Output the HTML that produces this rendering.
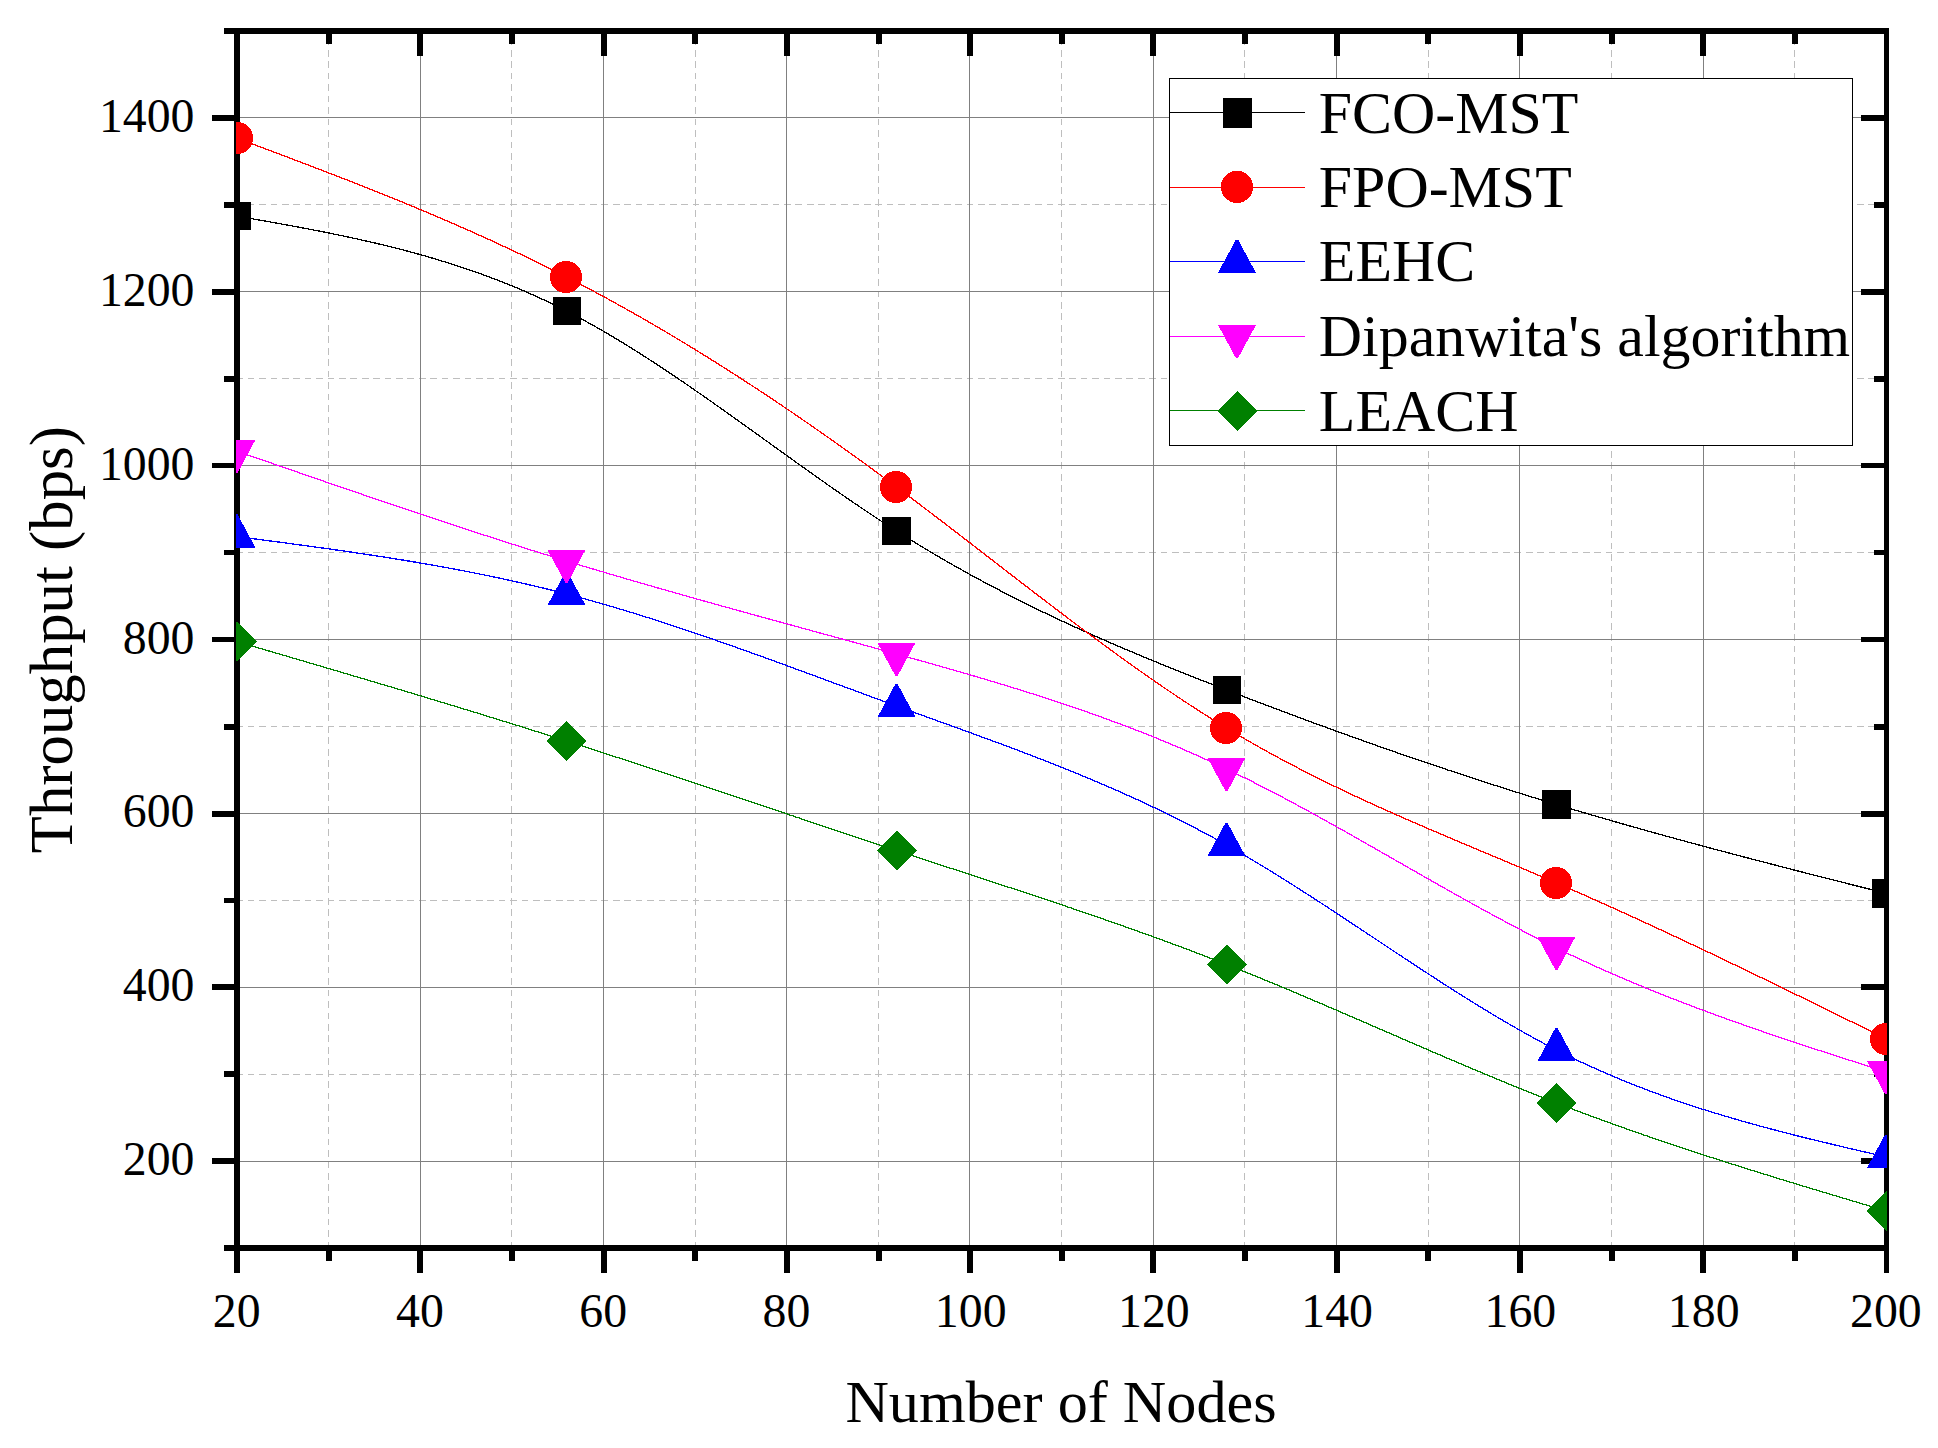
<!DOCTYPE html>
<html lang="en"><head><meta charset="utf-8"><title>Throughput vs Number of Nodes</title>
<style>html,body{margin:0;padding:0;background:#fff;overflow:hidden}svg{display:block}text{font-family:"Liberation Serif",serif;fill:#000;font-kerning:none}</style>
</head><body>
<svg width="1938" height="1448" viewBox="0 0 1938 1448">
<rect x="0" y="0" width="1938" height="1448" fill="#fff"/>
<defs><clipPath id="pc"><rect x="236" y="31" width="1651" height="1217"/></clipPath></defs>
<g shape-rendering="crispEdges" fill="none" stroke-width="1">
<g stroke="#bebebe">
<line x1="328.5" y1="1248.4" x2="328.5" y2="34" stroke-dasharray="6.7 4.76"/>
<line x1="511.5" y1="1248.4" x2="511.5" y2="34" stroke-dasharray="6.7 4.76"/>
<line x1="695.5" y1="1248.4" x2="695.5" y2="34" stroke-dasharray="6.7 4.76"/>
<line x1="878.5" y1="1248.4" x2="878.5" y2="34" stroke-dasharray="6.7 4.76"/>
<line x1="1061.5" y1="1248.4" x2="1061.5" y2="34" stroke-dasharray="6.7 4.76"/>
<line x1="1244.5" y1="1248.4" x2="1244.5" y2="34" stroke-dasharray="6.7 4.76"/>
<line x1="1428.5" y1="1248.4" x2="1428.5" y2="34" stroke-dasharray="6.7 4.76"/>
<line x1="1611.5" y1="1248.4" x2="1611.5" y2="34" stroke-dasharray="6.7 4.76"/>
<line x1="1794.5" y1="1248.4" x2="1794.5" y2="34" stroke-dasharray="6.7 4.76"/>
<line x1="236.3" y1="1074.5" x2="1884" y2="1074.5" stroke-dasharray="6.7 4.712"/>
<line x1="236.3" y1="900.5" x2="1884" y2="900.5" stroke-dasharray="6.7 4.712"/>
<line x1="236.3" y1="726.5" x2="1884" y2="726.5" stroke-dasharray="6.7 4.712"/>
<line x1="236.3" y1="552.5" x2="1884" y2="552.5" stroke-dasharray="6.7 4.712"/>
<line x1="236.3" y1="378.5" x2="1884" y2="378.5" stroke-dasharray="6.7 4.712"/>
<line x1="236.3" y1="204.5" x2="1884" y2="204.5" stroke-dasharray="6.7 4.712"/>
</g>
<g stroke="#808080">
<line x1="420.5" y1="34" x2="420.5" y2="1245"/>
<line x1="603.5" y1="34" x2="603.5" y2="1245"/>
<line x1="786.5" y1="34" x2="786.5" y2="1245"/>
<line x1="969.5" y1="34" x2="969.5" y2="1245"/>
<line x1="1153.5" y1="34" x2="1153.5" y2="1245"/>
<line x1="1336.5" y1="34" x2="1336.5" y2="1245"/>
<line x1="1519.5" y1="34" x2="1519.5" y2="1245"/>
<line x1="1703.5" y1="34" x2="1703.5" y2="1245"/>
<line x1="240" y1="1161.5" x2="1884" y2="1161.5"/>
<line x1="240" y1="987.5" x2="1884" y2="987.5"/>
<line x1="240" y1="813.5" x2="1884" y2="813.5"/>
<line x1="240" y1="639.5" x2="1884" y2="639.5"/>
<line x1="240" y1="465.5" x2="1884" y2="465.5"/>
<line x1="240" y1="291.5" x2="1884" y2="291.5"/>
<line x1="240" y1="117.5" x2="1884" y2="117.5"/>
</g></g>
<g shape-rendering="crispEdges" fill="#000">
<rect x="234" y="28" width="6" height="1223"/>
<rect x="1884" y="28" width="5" height="1245"/>
<rect x="224" y="28" width="1665" height="6"/>
<rect x="224" y="1245" width="1665" height="6"/>
<rect x="212" y="1158" width="22" height="6"/>
<rect x="1861" y="1158" width="23" height="6"/>
<rect x="224" y="1071" width="10" height="6"/>
<rect x="1874" y="1071" width="10" height="6"/>
<rect x="212" y="984" width="22" height="6"/>
<rect x="1861" y="984" width="23" height="6"/>
<rect x="224" y="898" width="10" height="5"/>
<rect x="1874" y="898" width="10" height="5"/>
<rect x="212" y="811" width="22" height="6"/>
<rect x="1861" y="811" width="23" height="6"/>
<rect x="224" y="724" width="10" height="6"/>
<rect x="1874" y="724" width="10" height="6"/>
<rect x="212" y="637" width="22" height="5"/>
<rect x="1861" y="637" width="23" height="5"/>
<rect x="224" y="550" width="10" height="5"/>
<rect x="1874" y="550" width="10" height="5"/>
<rect x="212" y="463" width="22" height="5"/>
<rect x="1861" y="463" width="23" height="5"/>
<rect x="224" y="376" width="10" height="6"/>
<rect x="1874" y="376" width="10" height="6"/>
<rect x="212" y="289" width="22" height="6"/>
<rect x="1861" y="289" width="23" height="6"/>
<rect x="224" y="202" width="10" height="6"/>
<rect x="1874" y="202" width="10" height="6"/>
<rect x="212" y="115" width="22" height="6"/>
<rect x="1861" y="115" width="23" height="6"/>
<rect x="234" y="1251" width="6" height="22"/>
<rect x="326" y="34" width="6" height="10"/>
<rect x="326" y="1251" width="6" height="10"/>
<rect x="417" y="34" width="6" height="22"/>
<rect x="417" y="1251" width="6" height="22"/>
<rect x="509" y="34" width="6" height="10"/>
<rect x="509" y="1251" width="6" height="10"/>
<rect x="601" y="34" width="6" height="22"/>
<rect x="601" y="1251" width="6" height="22"/>
<rect x="692" y="34" width="6" height="10"/>
<rect x="692" y="1251" width="6" height="10"/>
<rect x="784" y="34" width="6" height="22"/>
<rect x="784" y="1251" width="6" height="22"/>
<rect x="876" y="34" width="6" height="10"/>
<rect x="876" y="1251" width="6" height="10"/>
<rect x="967" y="34" width="6" height="22"/>
<rect x="967" y="1251" width="6" height="22"/>
<rect x="1059" y="34" width="6" height="10"/>
<rect x="1059" y="1251" width="6" height="10"/>
<rect x="1150" y="34" width="6" height="22"/>
<rect x="1150" y="1251" width="6" height="22"/>
<rect x="1242" y="34" width="6" height="10"/>
<rect x="1242" y="1251" width="6" height="10"/>
<rect x="1334" y="34" width="6" height="22"/>
<rect x="1334" y="1251" width="6" height="22"/>
<rect x="1425" y="34" width="6" height="10"/>
<rect x="1425" y="1251" width="6" height="10"/>
<rect x="1517" y="34" width="6" height="22"/>
<rect x="1517" y="1251" width="6" height="22"/>
<rect x="1609" y="34" width="6" height="10"/>
<rect x="1609" y="1251" width="6" height="10"/>
<rect x="1700" y="34" width="6" height="22"/>
<rect x="1700" y="1251" width="6" height="22"/>
<rect x="1792" y="34" width="6" height="10"/>
<rect x="1792" y="1251" width="6" height="10"/>
</g>
<g font-size="47.8px">
<text x="194.5" y="1175.2" text-anchor="end">200</text>
<text x="194.5" y="1001.3" text-anchor="end">400</text>
<text x="194.5" y="827.4" text-anchor="end">600</text>
<text x="194.5" y="653.6" text-anchor="end">800</text>
<text x="194.5" y="479.7" text-anchor="end">1000</text>
<text x="194.5" y="305.9" text-anchor="end">1200</text>
<text x="194.5" y="132.0" text-anchor="end">1400</text>
<text x="236.7" y="1327" text-anchor="middle">20</text>
<text x="419.9" y="1327" text-anchor="middle">40</text>
<text x="603.2" y="1327" text-anchor="middle">60</text>
<text x="786.4" y="1327" text-anchor="middle">80</text>
<text x="970.7" y="1327" text-anchor="middle">100</text>
<text x="1153.9" y="1327" text-anchor="middle">120</text>
<text x="1337.1" y="1327" text-anchor="middle">140</text>
<text x="1520.4" y="1327" text-anchor="middle">160</text>
<text x="1703.7" y="1327" text-anchor="middle">180</text>
<text x="1885.9" y="1327" text-anchor="middle">200</text>
</g>
<text x="1061.0" y="1421.8" font-size="60.2px" text-anchor="middle">Number of Nodes</text>
<text transform="translate(72,639.6) rotate(-90)" font-size="60.8px" text-anchor="middle">Throughput (bps)</text>
<g clip-path="url(#pc)" shape-rendering="crispEdges">
<polyline points="236.5,216.0 238.5,216.4 240.5,216.7 242.5,217.1 244.5,217.4 246.5,217.8 248.5,218.1 250.5,218.5 252.5,218.8 254.5,219.2 256.5,219.5 258.5,219.9 260.5,220.2 262.5,220.6 264.5,220.9 266.5,221.3 268.5,221.6 270.5,222.0 272.5,222.4 274.5,222.7 276.5,223.1 278.5,223.4 280.5,223.8 282.5,224.2 284.5,224.5 286.5,224.9 288.5,225.3 290.5,225.6 292.5,226.0 294.5,226.4 296.5,226.7 298.5,227.1 300.5,227.5 302.5,227.9 304.5,228.2 306.5,228.6 308.5,229.0 310.5,229.4 312.5,229.8 314.5,230.2 316.5,230.6 318.5,230.9 320.5,231.3 322.5,231.7 324.5,232.1 326.5,232.5 328.5,232.9 330.5,233.3 332.5,233.7 334.5,234.2 336.5,234.6 338.5,235.0 340.5,235.4 342.5,235.8 344.5,236.2 346.5,236.7 348.5,237.1 350.5,237.5 352.5,238.0 354.5,238.4 356.5,238.8 358.5,239.3 360.5,239.7 362.5,240.2 364.5,240.6 366.5,241.1 368.5,241.5 370.5,242.0 372.5,242.4 374.5,242.9 376.5,243.4 378.5,243.9 380.5,244.3 382.5,244.8 384.5,245.3 386.5,245.8 388.5,246.3 390.5,246.8 392.5,247.3 394.5,247.8 396.5,248.3 398.5,248.8 400.5,249.3 402.5,249.8 404.5,250.4 406.5,250.9 408.5,251.4 410.5,252.0 412.5,252.5 414.5,253.0 416.5,253.6 418.5,254.1 420.5,254.7 422.5,255.3 424.5,255.8 426.5,256.4 428.5,257.0 430.5,257.6 432.5,258.1 434.5,258.7 436.5,259.3 438.5,259.9 440.5,260.5 442.5,261.2 444.5,261.8 446.5,262.4 448.5,263.0 450.5,263.6 452.5,264.3 454.5,264.9 456.5,265.6 458.5,266.2 460.5,266.9 462.5,267.6 464.5,268.2 466.5,268.9 468.5,269.6 470.5,270.3 472.5,271.0 474.5,271.7 476.5,272.4 478.5,273.1 480.5,273.8 482.5,274.5 484.5,275.2 486.5,276.0 488.5,276.7 490.5,277.5 492.5,278.2 494.5,279.0 496.5,279.8 498.5,280.5 500.5,281.3 502.5,282.1 504.5,282.9 506.5,283.7 508.5,284.5 510.5,285.3 512.5,286.1 514.5,286.9 516.5,287.8 518.5,288.6 520.5,289.5 522.5,290.3 524.5,291.2 526.5,292.1 528.5,292.9 530.5,293.8 532.5,294.7 534.5,295.6 536.5,296.5 538.5,297.4 540.5,298.3 542.5,299.3 544.5,300.2 546.5,301.1 548.5,302.1 550.5,303.1 552.5,304.0 554.5,305.0 556.5,306.0 558.5,307.0 560.5,308.0 562.5,309.0 564.5,310.0 566.5,311.0 568.5,312.0 570.5,313.1 572.5,314.1 574.5,315.2 576.5,316.2 578.5,317.3 580.5,318.4 582.5,319.5 584.5,320.6 586.5,321.7 588.5,322.8 590.5,323.9 592.5,325.0 594.5,326.1 596.5,327.3 598.5,328.4 600.5,329.6 602.5,330.7 604.5,331.9 606.5,333.0 608.5,334.2 610.5,335.4 612.5,336.6 614.5,337.8 616.5,339.0 618.5,340.2 620.5,341.4 622.5,342.6 624.5,343.9 626.5,345.1 628.5,346.3 630.5,347.6 632.5,348.8 634.5,350.1 636.5,351.3 638.5,352.6 640.5,353.9 642.5,355.2 644.5,356.4 646.5,357.7 648.5,359.0 650.5,360.3 652.5,361.6 654.5,362.9 656.5,364.2 658.5,365.5 660.5,366.9 662.5,368.2 664.5,369.5 666.5,370.8 668.5,372.2 670.5,373.5 672.5,374.9 674.5,376.2 676.5,377.6 678.5,378.9 680.5,380.3 682.5,381.6 684.5,383.0 686.5,384.4 688.5,385.7 690.5,387.1 692.5,388.5 694.5,389.9 696.5,391.3 698.5,392.7 700.5,394.0 702.5,395.4 704.5,396.8 706.5,398.2 708.5,399.6 710.5,401.0 712.5,402.4 714.5,403.9 716.5,405.3 718.5,406.7 720.5,408.1 722.5,409.5 724.5,410.9 726.5,412.4 728.5,413.8 730.5,415.2 732.5,416.6 734.5,418.0 736.5,419.5 738.5,420.9 740.5,422.3 742.5,423.8 744.5,425.2 746.5,426.6 748.5,428.1 750.5,429.5 752.5,430.9 754.5,432.4 756.5,433.8 758.5,435.3 760.5,436.7 762.5,438.1 764.5,439.6 766.5,441.0 768.5,442.4 770.5,443.9 772.5,445.3 774.5,446.8 776.5,448.2 778.5,449.6 780.5,451.1 782.5,452.5 784.5,454.0 786.5,455.4 788.5,456.8 790.5,458.3 792.5,459.7 794.5,461.1 796.5,462.6 798.5,464.0 800.5,465.4 802.5,466.8 804.5,468.3 806.5,469.7 808.5,471.1 810.5,472.5 812.5,474.0 814.5,475.4 816.5,476.8 818.5,478.2 820.5,479.6 822.5,481.0 824.5,482.4 826.5,483.9 828.5,485.3 830.5,486.7 832.5,488.1 834.5,489.5 836.5,490.8 838.5,492.2 840.5,493.6 842.5,495.0 844.5,496.4 846.5,497.8 848.5,499.1 850.5,500.5 852.5,501.9 854.5,503.3 856.5,504.6 858.5,506.0 860.5,507.3 862.5,508.7 864.5,510.0 866.5,511.4 868.5,512.7 870.5,514.0 872.5,515.4 874.5,516.7 876.5,518.0 878.5,519.3 880.5,520.7 882.5,522.0 884.5,523.3 886.5,524.6 888.5,525.9 890.5,527.2 892.5,528.4 894.5,529.7 896.5,531.0 898.5,532.3 900.5,533.5 902.5,534.8 904.5,536.0 906.5,537.3 908.5,538.5 910.5,539.8 912.5,541.0 914.5,542.2 916.5,543.5 918.5,544.7 920.5,545.9 922.5,547.1 924.5,548.3 926.5,549.5 928.5,550.7 930.5,551.9 932.5,553.1 934.5,554.3 936.5,555.5 938.5,556.6 940.5,557.8 942.5,559.0 944.5,560.1 946.5,561.3 948.5,562.4 950.5,563.6 952.5,564.7 954.5,565.8 956.5,567.0 958.5,568.1 960.5,569.2 962.5,570.3 964.5,571.4 966.5,572.6 968.5,573.7 970.5,574.8 972.5,575.9 974.5,576.9 976.5,578.0 978.5,579.1 980.5,580.2 982.5,581.3 984.5,582.3 986.5,583.4 988.5,584.5 990.5,585.5 992.5,586.6 994.5,587.6 996.5,588.7 998.5,589.7 1000.5,590.8 1002.5,591.8 1004.5,592.8 1006.5,593.9 1008.5,594.9 1010.5,595.9 1012.5,596.9 1014.5,598.0 1016.5,599.0 1018.5,600.0 1020.5,601.0 1022.5,602.0 1024.5,603.0 1026.5,604.0 1028.5,605.0 1030.5,605.9 1032.5,606.9 1034.5,607.9 1036.5,608.9 1038.5,609.8 1040.5,610.8 1042.5,611.8 1044.5,612.7 1046.5,613.7 1048.5,614.7 1050.5,615.6 1052.5,616.6 1054.5,617.5 1056.5,618.4 1058.5,619.4 1060.5,620.3 1062.5,621.3 1064.5,622.2 1066.5,623.1 1068.5,624.0 1070.5,625.0 1072.5,625.9 1074.5,626.8 1076.5,627.7 1078.5,628.6 1080.5,629.5 1082.5,630.4 1084.5,631.3 1086.5,632.2 1088.5,633.1 1090.5,634.0 1092.5,634.9 1094.5,635.8 1096.5,636.7 1098.5,637.6 1100.5,638.5 1102.5,639.3 1104.5,640.2 1106.5,641.1 1108.5,642.0 1110.5,642.8 1112.5,643.7 1114.5,644.6 1116.5,645.4 1118.5,646.3 1120.5,647.1 1122.5,648.0 1124.5,648.8 1126.5,649.7 1128.5,650.5 1130.5,651.4 1132.5,652.2 1134.5,653.1 1136.5,653.9 1138.5,654.8 1140.5,655.6 1142.5,656.4 1144.5,657.3 1146.5,658.1 1148.5,658.9 1150.5,659.7 1152.5,660.6 1154.5,661.4 1156.5,662.2 1158.5,663.0 1160.5,663.8 1162.5,664.7 1164.5,665.5 1166.5,666.3 1168.5,667.1 1170.5,667.9 1172.5,668.7 1174.5,669.5 1176.5,670.3 1178.5,671.1 1180.5,671.9 1182.5,672.7 1184.5,673.5 1186.5,674.3 1188.5,675.1 1190.5,675.9 1192.5,676.7 1194.5,677.5 1196.5,678.3 1198.5,679.1 1200.5,679.9 1202.5,680.6 1204.5,681.4 1206.5,682.2 1208.5,683.0 1210.5,683.8 1212.5,684.6 1214.5,685.3 1216.5,686.1 1218.5,686.9 1220.5,687.7 1222.5,688.5 1224.5,689.2 1226.5,690.0 1228.5,690.8 1230.5,691.5 1232.5,692.3 1234.5,693.1 1236.5,693.9 1238.5,694.6 1240.5,695.4 1242.5,696.2 1244.5,696.9 1246.5,697.7 1248.5,698.5 1250.5,699.2 1252.5,700.0 1254.5,700.7 1256.5,701.5 1258.5,702.3 1260.5,703.0 1262.5,703.8 1264.5,704.5 1266.5,705.3 1268.5,706.1 1270.5,706.8 1272.5,707.6 1274.5,708.3 1276.5,709.1 1278.5,709.8 1280.5,710.6 1282.5,711.3 1284.5,712.1 1286.5,712.8 1288.5,713.6 1290.5,714.3 1292.5,715.1 1294.5,715.8 1296.5,716.5 1298.5,717.3 1300.5,718.0 1302.5,718.8 1304.5,719.5 1306.5,720.2 1308.5,721.0 1310.5,721.7 1312.5,722.5 1314.5,723.2 1316.5,723.9 1318.5,724.7 1320.5,725.4 1322.5,726.1 1324.5,726.8 1326.5,727.6 1328.5,728.3 1330.5,729.0 1332.5,729.8 1334.5,730.5 1336.5,731.2 1338.5,731.9 1340.5,732.7 1342.5,733.4 1344.5,734.1 1346.5,734.8 1348.5,735.5 1350.5,736.2 1352.5,737.0 1354.5,737.7 1356.5,738.4 1358.5,739.1 1360.5,739.8 1362.5,740.5 1364.5,741.2 1366.5,742.0 1368.5,742.7 1370.5,743.4 1372.5,744.1 1374.5,744.8 1376.5,745.5 1378.5,746.2 1380.5,746.9 1382.5,747.6 1384.5,748.3 1386.5,749.0 1388.5,749.7 1390.5,750.4 1392.5,751.1 1394.5,751.8 1396.5,752.5 1398.5,753.2 1400.5,753.9 1402.5,754.5 1404.5,755.2 1406.5,755.9 1408.5,756.6 1410.5,757.3 1412.5,758.0 1414.5,758.7 1416.5,759.4 1418.5,760.0 1420.5,760.7 1422.5,761.4 1424.5,762.1 1426.5,762.8 1428.5,763.4 1430.5,764.1 1432.5,764.8 1434.5,765.5 1436.5,766.1 1438.5,766.8 1440.5,767.5 1442.5,768.1 1444.5,768.8 1446.5,769.5 1448.5,770.2 1450.5,770.8 1452.5,771.5 1454.5,772.1 1456.5,772.8 1458.5,773.5 1460.5,774.1 1462.5,774.8 1464.5,775.4 1466.5,776.1 1468.5,776.8 1470.5,777.4 1472.5,778.1 1474.5,778.7 1476.5,779.4 1478.5,780.0 1480.5,780.7 1482.5,781.3 1484.5,782.0 1486.5,782.6 1488.5,783.3 1490.5,783.9 1492.5,784.5 1494.5,785.2 1496.5,785.8 1498.5,786.5 1500.5,787.1 1502.5,787.7 1504.5,788.4 1506.5,789.0 1508.5,789.6 1510.5,790.3 1512.5,790.9 1514.5,791.5 1516.5,792.2 1518.5,792.8 1520.5,793.4 1522.5,794.0 1524.5,794.7 1526.5,795.3 1528.5,795.9 1530.5,796.5 1532.5,797.2 1534.5,797.8 1536.5,798.4 1538.5,799.0 1540.5,799.6 1542.5,800.2 1544.5,800.8 1546.5,801.5 1548.5,802.1 1550.5,802.7 1552.5,803.3 1554.5,803.9 1556.5,804.5 1558.5,805.1 1560.5,805.7 1562.5,806.3 1564.5,806.9 1566.5,807.5 1568.5,808.1 1570.5,808.7 1572.5,809.3 1574.5,809.9 1576.5,810.5 1578.5,811.1 1580.5,811.7 1582.5,812.3 1584.5,812.9 1586.5,813.4 1588.5,814.0 1590.5,814.6 1592.5,815.2 1594.5,815.8 1596.5,816.4 1598.5,817.0 1600.5,817.5 1602.5,818.1 1604.5,818.7 1606.5,819.3 1608.5,819.8 1610.5,820.4 1612.5,821.0 1614.5,821.6 1616.5,822.1 1618.5,822.7 1620.5,823.3 1622.5,823.9 1624.5,824.4 1626.5,825.0 1628.5,825.6 1630.5,826.1 1632.5,826.7 1634.5,827.3 1636.5,827.8 1638.5,828.4 1640.5,828.9 1642.5,829.5 1644.5,830.1 1646.5,830.6 1648.5,831.2 1650.5,831.7 1652.5,832.3 1654.5,832.9 1656.5,833.4 1658.5,834.0 1660.5,834.5 1662.5,835.1 1664.5,835.6 1666.5,836.2 1668.5,836.7 1670.5,837.3 1672.5,837.8 1674.5,838.4 1676.5,838.9 1678.5,839.5 1680.5,840.0 1682.5,840.5 1684.5,841.1 1686.5,841.6 1688.5,842.2 1690.5,842.7 1692.5,843.3 1694.5,843.8 1696.5,844.3 1698.5,844.9 1700.5,845.4 1702.5,846.0 1704.5,846.5 1706.5,847.0 1708.5,847.6 1710.5,848.1 1712.5,848.6 1714.5,849.2 1716.5,849.7 1718.5,850.2 1720.5,850.8 1722.5,851.3 1724.5,851.8 1726.5,852.4 1728.5,852.9 1730.5,853.4 1732.5,853.9 1734.5,854.5 1736.5,855.0 1738.5,855.5 1740.5,856.0 1742.5,856.6 1744.5,857.1 1746.5,857.6 1748.5,858.1 1750.5,858.7 1752.5,859.2 1754.5,859.7 1756.5,860.2 1758.5,860.8 1760.5,861.3 1762.5,861.8 1764.5,862.3 1766.5,862.8 1768.5,863.4 1770.5,863.9 1772.5,864.4 1774.5,864.9 1776.5,865.4 1778.5,866.0 1780.5,866.5 1782.5,867.0 1784.5,867.5 1786.5,868.0 1788.5,868.5 1790.5,869.0 1792.5,869.6 1794.5,870.1 1796.5,870.6 1798.5,871.1 1800.5,871.6 1802.5,872.1 1804.5,872.6 1806.5,873.2 1808.5,873.7 1810.5,874.2 1812.5,874.7 1814.5,875.2 1816.5,875.7 1818.5,876.2 1820.5,876.7 1822.5,877.2 1824.5,877.8 1826.5,878.3 1828.5,878.8 1830.5,879.3 1832.5,879.8 1834.5,880.3 1836.5,880.8 1838.5,881.3 1840.5,881.8 1842.5,882.3 1844.5,882.8 1846.5,883.4 1848.5,883.9 1850.5,884.4 1852.5,884.9 1854.5,885.4 1856.5,885.9 1858.5,886.4 1860.5,886.9 1862.5,887.4 1864.5,887.9 1866.5,888.4 1868.5,888.9 1870.5,889.4 1872.5,890.0 1874.5,890.5 1876.5,891.0 1878.5,891.5 1880.5,892.0 1882.5,892.5 1884.5,893.0 1886.5,893.5" fill="none" stroke="#000" stroke-width="1.3"/>
<rect x="223" y="202" width="28" height="28" fill="#000"/>
<rect x="553" y="297" width="28" height="28" fill="#000"/>
<rect x="882" y="517" width="29" height="28" fill="#000"/>
<rect x="1213" y="676" width="28" height="28" fill="#000"/>
<rect x="1542" y="790" width="29" height="29" fill="#000"/>
<rect x="1872" y="879" width="29" height="29" fill="#000"/>
<polyline points="236.5,138.0 238.5,138.8 240.5,139.5 242.5,140.3 244.5,141.0 246.5,141.8 248.5,142.5 250.5,143.3 252.5,144.0 254.5,144.8 256.5,145.5 258.5,146.3 260.5,147.0 262.5,147.8 264.5,148.5 266.5,149.3 268.5,150.0 270.5,150.8 272.5,151.5 274.5,152.3 276.5,153.0 278.5,153.8 280.5,154.5 282.5,155.3 284.5,156.1 286.5,156.8 288.5,157.6 290.5,158.3 292.5,159.1 294.5,159.9 296.5,160.6 298.5,161.4 300.5,162.1 302.5,162.9 304.5,163.7 306.5,164.4 308.5,165.2 310.5,165.9 312.5,166.7 314.5,167.5 316.5,168.2 318.5,169.0 320.5,169.8 322.5,170.5 324.5,171.3 326.5,172.1 328.5,172.9 330.5,173.6 332.5,174.4 334.5,175.2 336.5,176.0 338.5,176.7 340.5,177.5 342.5,178.3 344.5,179.1 346.5,179.8 348.5,180.6 350.5,181.4 352.5,182.2 354.5,183.0 356.5,183.8 358.5,184.6 360.5,185.3 362.5,186.1 364.5,186.9 366.5,187.7 368.5,188.5 370.5,189.3 372.5,190.1 374.5,190.9 376.5,191.7 378.5,192.5 380.5,193.3 382.5,194.1 384.5,194.9 386.5,195.7 388.5,196.5 390.5,197.3 392.5,198.1 394.5,199.0 396.5,199.8 398.5,200.6 400.5,201.4 402.5,202.2 404.5,203.1 406.5,203.9 408.5,204.7 410.5,205.5 412.5,206.4 414.5,207.2 416.5,208.0 418.5,208.8 420.5,209.7 422.5,210.5 424.5,211.4 426.5,212.2 428.5,213.0 430.5,213.9 432.5,214.7 434.5,215.6 436.5,216.4 438.5,217.3 440.5,218.1 442.5,219.0 444.5,219.9 446.5,220.7 448.5,221.6 450.5,222.4 452.5,223.3 454.5,224.2 456.5,225.1 458.5,225.9 460.5,226.8 462.5,227.7 464.5,228.6 466.5,229.4 468.5,230.3 470.5,231.2 472.5,232.1 474.5,233.0 476.5,233.9 478.5,234.8 480.5,235.7 482.5,236.6 484.5,237.5 486.5,238.4 488.5,239.3 490.5,240.2 492.5,241.2 494.5,242.1 496.5,243.0 498.5,243.9 500.5,244.8 502.5,245.8 504.5,246.7 506.5,247.6 508.5,248.6 510.5,249.5 512.5,250.4 514.5,251.4 516.5,252.3 518.5,253.3 520.5,254.2 522.5,255.2 524.5,256.2 526.5,257.1 528.5,258.1 530.5,259.1 532.5,260.0 534.5,261.0 536.5,262.0 538.5,263.0 540.5,263.9 542.5,264.9 544.5,265.9 546.5,266.9 548.5,267.9 550.5,268.9 552.5,269.9 554.5,270.9 556.5,271.9 558.5,272.9 560.5,273.9 562.5,275.0 564.5,276.0 566.5,277.0 568.5,278.0 570.5,279.1 572.5,280.1 574.5,281.1 576.5,282.2 578.5,283.2 580.5,284.3 582.5,285.3 584.5,286.4 586.5,287.4 588.5,288.5 590.5,289.6 592.5,290.6 594.5,291.7 596.5,292.8 598.5,293.8 600.5,294.9 602.5,296.0 604.5,297.1 606.5,298.2 608.5,299.3 610.5,300.4 612.5,301.5 614.5,302.6 616.5,303.7 618.5,304.8 620.5,305.9 622.5,307.0 624.5,308.1 626.5,309.3 628.5,310.4 630.5,311.5 632.5,312.6 634.5,313.8 636.5,314.9 638.5,316.1 640.5,317.2 642.5,318.3 644.5,319.5 646.5,320.6 648.5,321.8 650.5,323.0 652.5,324.1 654.5,325.3 656.5,326.5 658.5,327.6 660.5,328.8 662.5,330.0 664.5,331.2 666.5,332.3 668.5,333.5 670.5,334.7 672.5,335.9 674.5,337.1 676.5,338.3 678.5,339.5 680.5,340.7 682.5,341.9 684.5,343.1 686.5,344.3 688.5,345.6 690.5,346.8 692.5,348.0 694.5,349.2 696.5,350.5 698.5,351.7 700.5,352.9 702.5,354.2 704.5,355.4 706.5,356.6 708.5,357.9 710.5,359.1 712.5,360.4 714.5,361.6 716.5,362.9 718.5,364.2 720.5,365.4 722.5,366.7 724.5,368.0 726.5,369.2 728.5,370.5 730.5,371.8 732.5,373.1 734.5,374.3 736.5,375.6 738.5,376.9 740.5,378.2 742.5,379.5 744.5,380.8 746.5,382.1 748.5,383.4 750.5,384.7 752.5,386.0 754.5,387.3 756.5,388.6 758.5,389.9 760.5,391.3 762.5,392.6 764.5,393.9 766.5,395.2 768.5,396.6 770.5,397.9 772.5,399.2 774.5,400.6 776.5,401.9 778.5,403.3 780.5,404.6 782.5,406.0 784.5,407.3 786.5,408.7 788.5,410.0 790.5,411.4 792.5,412.7 794.5,414.1 796.5,415.5 798.5,416.8 800.5,418.2 802.5,419.6 804.5,421.0 806.5,422.3 808.5,423.7 810.5,425.1 812.5,426.5 814.5,427.9 816.5,429.3 818.5,430.7 820.5,432.1 822.5,433.5 824.5,434.9 826.5,436.3 828.5,437.7 830.5,439.1 832.5,440.5 834.5,441.9 836.5,443.3 838.5,444.8 840.5,446.2 842.5,447.6 844.5,449.0 846.5,450.5 848.5,451.9 850.5,453.3 852.5,454.8 854.5,456.2 856.5,457.7 858.5,459.1 860.5,460.5 862.5,462.0 864.5,463.4 866.5,464.9 868.5,466.4 870.5,467.8 872.5,469.3 874.5,470.7 876.5,472.2 878.5,473.7 880.5,475.1 882.5,476.6 884.5,478.1 886.5,479.6 888.5,481.1 890.5,482.5 892.5,484.0 894.5,485.5 896.5,487.0 898.5,488.5 900.5,490.0 902.5,491.5 904.5,493.0 906.5,494.5 908.5,496.0 910.5,497.5 912.5,499.0 914.5,500.5 916.5,502.0 918.5,503.5 920.5,505.0 922.5,506.6 924.5,508.1 926.5,509.6 928.5,511.1 930.5,512.6 932.5,514.2 934.5,515.7 936.5,517.2 938.5,518.7 940.5,520.3 942.5,521.8 944.5,523.3 946.5,524.9 948.5,526.4 950.5,527.9 952.5,529.5 954.5,531.0 956.5,532.5 958.5,534.1 960.5,535.6 962.5,537.2 964.5,538.7 966.5,540.2 968.5,541.8 970.5,543.3 972.5,544.9 974.5,546.4 976.5,547.9 978.5,549.5 980.5,551.0 982.5,552.6 984.5,554.1 986.5,555.7 988.5,557.2 990.5,558.8 992.5,560.3 994.5,561.8 996.5,563.4 998.5,564.9 1000.5,566.5 1002.5,568.0 1004.5,569.6 1006.5,571.1 1008.5,572.7 1010.5,574.2 1012.5,575.7 1014.5,577.3 1016.5,578.8 1018.5,580.4 1020.5,581.9 1022.5,583.5 1024.5,585.0 1026.5,586.5 1028.5,588.1 1030.5,589.6 1032.5,591.1 1034.5,592.7 1036.5,594.2 1038.5,595.7 1040.5,597.3 1042.5,598.8 1044.5,600.3 1046.5,601.9 1048.5,603.4 1050.5,604.9 1052.5,606.4 1054.5,607.9 1056.5,609.5 1058.5,611.0 1060.5,612.5 1062.5,614.0 1064.5,615.5 1066.5,617.0 1068.5,618.6 1070.5,620.1 1072.5,621.6 1074.5,623.1 1076.5,624.6 1078.5,626.1 1080.5,627.6 1082.5,629.1 1084.5,630.6 1086.5,632.1 1088.5,633.5 1090.5,635.0 1092.5,636.5 1094.5,638.0 1096.5,639.5 1098.5,641.0 1100.5,642.4 1102.5,643.9 1104.5,645.4 1106.5,646.8 1108.5,648.3 1110.5,649.8 1112.5,651.2 1114.5,652.7 1116.5,654.1 1118.5,655.6 1120.5,657.0 1122.5,658.5 1124.5,659.9 1126.5,661.3 1128.5,662.8 1130.5,664.2 1132.5,665.6 1134.5,667.1 1136.5,668.5 1138.5,669.9 1140.5,671.3 1142.5,672.7 1144.5,674.1 1146.5,675.5 1148.5,676.9 1150.5,678.3 1152.5,679.7 1154.5,681.1 1156.5,682.5 1158.5,683.9 1160.5,685.2 1162.5,686.6 1164.5,688.0 1166.5,689.3 1168.5,690.7 1170.5,692.0 1172.5,693.4 1174.5,694.7 1176.5,696.1 1178.5,697.4 1180.5,698.7 1182.5,700.1 1184.5,701.4 1186.5,702.7 1188.5,704.0 1190.5,705.3 1192.5,706.6 1194.5,707.9 1196.5,709.2 1198.5,710.5 1200.5,711.8 1202.5,713.1 1204.5,714.3 1206.5,715.6 1208.5,716.9 1210.5,718.1 1212.5,719.4 1214.5,720.6 1216.5,721.9 1218.5,723.1 1220.5,724.3 1222.5,725.6 1224.5,726.8 1226.5,728.0 1228.5,729.2 1230.5,730.4 1232.5,731.6 1234.5,732.8 1236.5,734.0 1238.5,735.2 1240.5,736.3 1242.5,737.5 1244.5,738.7 1246.5,739.8 1248.5,741.0 1250.5,742.1 1252.5,743.3 1254.5,744.4 1256.5,745.6 1258.5,746.7 1260.5,747.8 1262.5,748.9 1264.5,750.0 1266.5,751.1 1268.5,752.3 1270.5,753.3 1272.5,754.4 1274.5,755.5 1276.5,756.6 1278.5,757.7 1280.5,758.8 1282.5,759.8 1284.5,760.9 1286.5,762.0 1288.5,763.0 1290.5,764.1 1292.5,765.1 1294.5,766.2 1296.5,767.2 1298.5,768.3 1300.5,769.3 1302.5,770.3 1304.5,771.3 1306.5,772.4 1308.5,773.4 1310.5,774.4 1312.5,775.4 1314.5,776.4 1316.5,777.4 1318.5,778.4 1320.5,779.4 1322.5,780.4 1324.5,781.4 1326.5,782.4 1328.5,783.3 1330.5,784.3 1332.5,785.3 1334.5,786.3 1336.5,787.2 1338.5,788.2 1340.5,789.2 1342.5,790.1 1344.5,791.1 1346.5,792.0 1348.5,793.0 1350.5,793.9 1352.5,794.8 1354.5,795.8 1356.5,796.7 1358.5,797.6 1360.5,798.6 1362.5,799.5 1364.5,800.4 1366.5,801.3 1368.5,802.3 1370.5,803.2 1372.5,804.1 1374.5,805.0 1376.5,805.9 1378.5,806.8 1380.5,807.7 1382.5,808.6 1384.5,809.5 1386.5,810.4 1388.5,811.3 1390.5,812.2 1392.5,813.1 1394.5,814.0 1396.5,814.9 1398.5,815.8 1400.5,816.6 1402.5,817.5 1404.5,818.4 1406.5,819.3 1408.5,820.2 1410.5,821.0 1412.5,821.9 1414.5,822.8 1416.5,823.6 1418.5,824.5 1420.5,825.4 1422.5,826.2 1424.5,827.1 1426.5,828.0 1428.5,828.8 1430.5,829.7 1432.5,830.5 1434.5,831.4 1436.5,832.2 1438.5,833.1 1440.5,833.9 1442.5,834.8 1444.5,835.6 1446.5,836.5 1448.5,837.3 1450.5,838.2 1452.5,839.0 1454.5,839.9 1456.5,840.7 1458.5,841.6 1460.5,842.4 1462.5,843.3 1464.5,844.1 1466.5,844.9 1468.5,845.8 1470.5,846.6 1472.5,847.5 1474.5,848.3 1476.5,849.1 1478.5,850.0 1480.5,850.8 1482.5,851.7 1484.5,852.5 1486.5,853.3 1488.5,854.2 1490.5,855.0 1492.5,855.9 1494.5,856.7 1496.5,857.5 1498.5,858.4 1500.5,859.2 1502.5,860.1 1504.5,860.9 1506.5,861.7 1508.5,862.6 1510.5,863.4 1512.5,864.3 1514.5,865.1 1516.5,866.0 1518.5,866.8 1520.5,867.6 1522.5,868.5 1524.5,869.3 1526.5,870.2 1528.5,871.0 1530.5,871.9 1532.5,872.7 1534.5,873.6 1536.5,874.4 1538.5,875.3 1540.5,876.1 1542.5,877.0 1544.5,877.8 1546.5,878.7 1548.5,879.6 1550.5,880.4 1552.5,881.3 1554.5,882.1 1556.5,883.0 1558.5,883.9 1560.5,884.7 1562.5,885.6 1564.5,886.5 1566.5,887.3 1568.5,888.2 1570.5,889.1 1572.5,890.0 1574.5,890.8 1576.5,891.7 1578.5,892.6 1580.5,893.5 1582.5,894.4 1584.5,895.2 1586.5,896.1 1588.5,897.0 1590.5,897.9 1592.5,898.8 1594.5,899.7 1596.5,900.6 1598.5,901.5 1600.5,902.4 1602.5,903.3 1604.5,904.1 1606.5,905.0 1608.5,905.9 1610.5,906.8 1612.5,907.7 1614.5,908.6 1616.5,909.6 1618.5,910.5 1620.5,911.4 1622.5,912.3 1624.5,913.2 1626.5,914.1 1628.5,915.0 1630.5,915.9 1632.5,916.8 1634.5,917.7 1636.5,918.7 1638.5,919.6 1640.5,920.5 1642.5,921.4 1644.5,922.3 1646.5,923.3 1648.5,924.2 1650.5,925.1 1652.5,926.0 1654.5,926.9 1656.5,927.9 1658.5,928.8 1660.5,929.7 1662.5,930.7 1664.5,931.6 1666.5,932.5 1668.5,933.5 1670.5,934.4 1672.5,935.3 1674.5,936.3 1676.5,937.2 1678.5,938.1 1680.5,939.1 1682.5,940.0 1684.5,940.9 1686.5,941.9 1688.5,942.8 1690.5,943.8 1692.5,944.7 1694.5,945.7 1696.5,946.6 1698.5,947.6 1700.5,948.5 1702.5,949.4 1704.5,950.4 1706.5,951.3 1708.5,952.3 1710.5,953.2 1712.5,954.2 1714.5,955.1 1716.5,956.1 1718.5,957.1 1720.5,958.0 1722.5,959.0 1724.5,959.9 1726.5,960.9 1728.5,961.8 1730.5,962.8 1732.5,963.8 1734.5,964.7 1736.5,965.7 1738.5,966.6 1740.5,967.6 1742.5,968.6 1744.5,969.5 1746.5,970.5 1748.5,971.5 1750.5,972.4 1752.5,973.4 1754.5,974.4 1756.5,975.3 1758.5,976.3 1760.5,977.3 1762.5,978.2 1764.5,979.2 1766.5,980.2 1768.5,981.1 1770.5,982.1 1772.5,983.1 1774.5,984.0 1776.5,985.0 1778.5,986.0 1780.5,987.0 1782.5,987.9 1784.5,988.9 1786.5,989.9 1788.5,990.9 1790.5,991.8 1792.5,992.8 1794.5,993.8 1796.5,994.8 1798.5,995.7 1800.5,996.7 1802.5,997.7 1804.5,998.7 1806.5,999.7 1808.5,1000.6 1810.5,1001.6 1812.5,1002.6 1814.5,1003.6 1816.5,1004.6 1818.5,1005.5 1820.5,1006.5 1822.5,1007.5 1824.5,1008.5 1826.5,1009.5 1828.5,1010.4 1830.5,1011.4 1832.5,1012.4 1834.5,1013.4 1836.5,1014.4 1838.5,1015.4 1840.5,1016.3 1842.5,1017.3 1844.5,1018.3 1846.5,1019.3 1848.5,1020.3 1850.5,1021.3 1852.5,1022.2 1854.5,1023.2 1856.5,1024.2 1858.5,1025.2 1860.5,1026.2 1862.5,1027.2 1864.5,1028.2 1866.5,1029.1 1868.5,1030.1 1870.5,1031.1 1872.5,1032.1 1874.5,1033.1 1876.5,1034.1 1878.5,1035.1 1880.5,1036.0 1882.5,1037.0 1884.5,1038.0 1886.5,1039.0" fill="none" stroke="#f00" stroke-width="1.3"/>
<circle cx="237.0" cy="138.0" r="16.1" fill="#f00"/>
<circle cx="566.0" cy="277.0" r="16.1" fill="#f00"/>
<circle cx="896.0" cy="487.0" r="16.1" fill="#f00"/>
<circle cx="1226.0" cy="728.0" r="16.1" fill="#f00"/>
<circle cx="1556.0" cy="883.0" r="16.1" fill="#f00"/>
<circle cx="1886.0" cy="1039.0" r="16.1" fill="#f00"/>
<polyline points="236.5,536.5 238.5,536.8 240.5,537.0 242.5,537.3 244.5,537.5 246.5,537.8 248.5,538.1 250.5,538.3 252.5,538.6 254.5,538.9 256.5,539.1 258.5,539.4 260.5,539.6 262.5,539.9 264.5,540.2 266.5,540.4 268.5,540.7 270.5,541.0 272.5,541.2 274.5,541.5 276.5,541.8 278.5,542.0 280.5,542.3 282.5,542.5 284.5,542.8 286.5,543.1 288.5,543.3 290.5,543.6 292.5,543.9 294.5,544.2 296.5,544.4 298.5,544.7 300.5,545.0 302.5,545.2 304.5,545.5 306.5,545.8 308.5,546.1 310.5,546.3 312.5,546.6 314.5,546.9 316.5,547.2 318.5,547.4 320.5,547.7 322.5,548.0 324.5,548.3 326.5,548.5 328.5,548.8 330.5,549.1 332.5,549.4 334.5,549.7 336.5,550.0 338.5,550.2 340.5,550.5 342.5,550.8 344.5,551.1 346.5,551.4 348.5,551.7 350.5,552.0 352.5,552.3 354.5,552.6 356.5,552.9 358.5,553.2 360.5,553.5 362.5,553.8 364.5,554.1 366.5,554.4 368.5,554.7 370.5,555.0 372.5,555.3 374.5,555.6 376.5,555.9 378.5,556.2 380.5,556.5 382.5,556.8 384.5,557.1 386.5,557.4 388.5,557.8 390.5,558.1 392.5,558.4 394.5,558.7 396.5,559.0 398.5,559.4 400.5,559.7 402.5,560.0 404.5,560.3 406.5,560.7 408.5,561.0 410.5,561.3 412.5,561.7 414.5,562.0 416.5,562.3 418.5,562.7 420.5,563.0 422.5,563.4 424.5,563.7 426.5,564.1 428.5,564.4 430.5,564.8 432.5,565.1 434.5,565.5 436.5,565.8 438.5,566.2 440.5,566.5 442.5,566.9 444.5,567.3 446.5,567.6 448.5,568.0 450.5,568.4 452.5,568.8 454.5,569.1 456.5,569.5 458.5,569.9 460.5,570.3 462.5,570.6 464.5,571.0 466.5,571.4 468.5,571.8 470.5,572.2 472.5,572.6 474.5,573.0 476.5,573.4 478.5,573.8 480.5,574.2 482.5,574.6 484.5,575.0 486.5,575.4 488.5,575.8 490.5,576.2 492.5,576.7 494.5,577.1 496.5,577.5 498.5,577.9 500.5,578.4 502.5,578.8 504.5,579.2 506.5,579.7 508.5,580.1 510.5,580.5 512.5,581.0 514.5,581.4 516.5,581.9 518.5,582.3 520.5,582.8 522.5,583.2 524.5,583.7 526.5,584.1 528.5,584.6 530.5,585.1 532.5,585.6 534.5,586.0 536.5,586.5 538.5,587.0 540.5,587.5 542.5,587.9 544.5,588.4 546.5,588.9 548.5,589.4 550.5,589.9 552.5,590.4 554.5,590.9 556.5,591.4 558.5,591.9 560.5,592.4 562.5,593.0 564.5,593.5 566.5,594.0 568.5,594.5 570.5,595.1 572.5,595.6 574.5,596.1 576.5,596.7 578.5,597.2 580.5,597.7 582.5,598.3 584.5,598.8 586.5,599.4 588.5,599.9 590.5,600.5 592.5,601.1 594.5,601.6 596.5,602.2 598.5,602.8 600.5,603.3 602.5,603.9 604.5,604.5 606.5,605.1 608.5,605.6 610.5,606.2 612.5,606.8 614.5,607.4 616.5,608.0 618.5,608.6 620.5,609.2 622.5,609.8 624.5,610.4 626.5,611.0 628.5,611.6 630.5,612.2 632.5,612.8 634.5,613.5 636.5,614.1 638.5,614.7 640.5,615.3 642.5,616.0 644.5,616.6 646.5,617.2 648.5,617.8 650.5,618.5 652.5,619.1 654.5,619.8 656.5,620.4 658.5,621.0 660.5,621.7 662.5,622.3 664.5,623.0 666.5,623.6 668.5,624.3 670.5,624.9 672.5,625.6 674.5,626.3 676.5,626.9 678.5,627.6 680.5,628.2 682.5,628.9 684.5,629.6 686.5,630.3 688.5,630.9 690.5,631.6 692.5,632.3 694.5,632.9 696.5,633.6 698.5,634.3 700.5,635.0 702.5,635.7 704.5,636.4 706.5,637.0 708.5,637.7 710.5,638.4 712.5,639.1 714.5,639.8 716.5,640.5 718.5,641.2 720.5,641.9 722.5,642.6 724.5,643.3 726.5,644.0 728.5,644.7 730.5,645.4 732.5,646.1 734.5,646.8 736.5,647.5 738.5,648.2 740.5,648.9 742.5,649.7 744.5,650.4 746.5,651.1 748.5,651.8 750.5,652.5 752.5,653.2 754.5,653.9 756.5,654.7 758.5,655.4 760.5,656.1 762.5,656.8 764.5,657.5 766.5,658.3 768.5,659.0 770.5,659.7 772.5,660.4 774.5,661.2 776.5,661.9 778.5,662.6 780.5,663.4 782.5,664.1 784.5,664.8 786.5,665.5 788.5,666.3 790.5,667.0 792.5,667.7 794.5,668.5 796.5,669.2 798.5,669.9 800.5,670.7 802.5,671.4 804.5,672.1 806.5,672.9 808.5,673.6 810.5,674.4 812.5,675.1 814.5,675.8 816.5,676.6 818.5,677.3 820.5,678.0 822.5,678.8 824.5,679.5 826.5,680.2 828.5,681.0 830.5,681.7 832.5,682.5 834.5,683.2 836.5,683.9 838.5,684.7 840.5,685.4 842.5,686.2 844.5,686.9 846.5,687.6 848.5,688.4 850.5,689.1 852.5,689.8 854.5,690.6 856.5,691.3 858.5,692.1 860.5,692.8 862.5,693.5 864.5,694.3 866.5,695.0 868.5,695.7 870.5,696.5 872.5,697.2 874.5,697.9 876.5,698.7 878.5,699.4 880.5,700.2 882.5,700.9 884.5,701.6 886.5,702.3 888.5,703.1 890.5,703.8 892.5,704.5 894.5,705.3 896.5,706.0 898.5,706.7 900.5,707.5 902.5,708.2 904.5,708.9 906.5,709.6 908.5,710.4 910.5,711.1 912.5,711.8 914.5,712.5 916.5,713.3 918.5,714.0 920.5,714.7 922.5,715.4 924.5,716.2 926.5,716.9 928.5,717.6 930.5,718.3 932.5,719.0 934.5,719.8 936.5,720.5 938.5,721.2 940.5,721.9 942.5,722.7 944.5,723.4 946.5,724.1 948.5,724.8 950.5,725.5 952.5,726.3 954.5,727.0 956.5,727.7 958.5,728.4 960.5,729.2 962.5,729.9 964.5,730.6 966.5,731.4 968.5,732.1 970.5,732.8 972.5,733.5 974.5,734.3 976.5,735.0 978.5,735.7 980.5,736.5 982.5,737.2 984.5,737.9 986.5,738.7 988.5,739.4 990.5,740.1 992.5,740.9 994.5,741.6 996.5,742.4 998.5,743.1 1000.5,743.8 1002.5,744.6 1004.5,745.3 1006.5,746.1 1008.5,746.8 1010.5,747.6 1012.5,748.3 1014.5,749.1 1016.5,749.8 1018.5,750.6 1020.5,751.4 1022.5,752.1 1024.5,752.9 1026.5,753.6 1028.5,754.4 1030.5,755.2 1032.5,755.9 1034.5,756.7 1036.5,757.5 1038.5,758.2 1040.5,759.0 1042.5,759.8 1044.5,760.6 1046.5,761.4 1048.5,762.1 1050.5,762.9 1052.5,763.7 1054.5,764.5 1056.5,765.3 1058.5,766.1 1060.5,766.9 1062.5,767.7 1064.5,768.5 1066.5,769.3 1068.5,770.1 1070.5,770.9 1072.5,771.7 1074.5,772.6 1076.5,773.4 1078.5,774.2 1080.5,775.0 1082.5,775.8 1084.5,776.7 1086.5,777.5 1088.5,778.3 1090.5,779.2 1092.5,780.0 1094.5,780.9 1096.5,781.7 1098.5,782.5 1100.5,783.4 1102.5,784.3 1104.5,785.1 1106.5,786.0 1108.5,786.8 1110.5,787.7 1112.5,788.6 1114.5,789.5 1116.5,790.3 1118.5,791.2 1120.5,792.1 1122.5,793.0 1124.5,793.9 1126.5,794.8 1128.5,795.7 1130.5,796.6 1132.5,797.5 1134.5,798.4 1136.5,799.3 1138.5,800.2 1140.5,801.2 1142.5,802.1 1144.5,803.0 1146.5,804.0 1148.5,804.9 1150.5,805.8 1152.5,806.8 1154.5,807.7 1156.5,808.7 1158.5,809.6 1160.5,810.6 1162.5,811.6 1164.5,812.5 1166.5,813.5 1168.5,814.5 1170.5,815.5 1172.5,816.5 1174.5,817.5 1176.5,818.5 1178.5,819.5 1180.5,820.5 1182.5,821.5 1184.5,822.5 1186.5,823.5 1188.5,824.6 1190.5,825.6 1192.5,826.6 1194.5,827.7 1196.5,828.7 1198.5,829.8 1200.5,830.8 1202.5,831.9 1204.5,832.9 1206.5,834.0 1208.5,835.1 1210.5,836.2 1212.5,837.2 1214.5,838.3 1216.5,839.4 1218.5,840.5 1220.5,841.6 1222.5,842.8 1224.5,843.9 1226.5,845.0 1228.5,846.1 1230.5,847.3 1232.5,848.4 1234.5,849.5 1236.5,850.7 1238.5,851.9 1240.5,853.0 1242.5,854.2 1244.5,855.3 1246.5,856.5 1248.5,857.7 1250.5,858.9 1252.5,860.1 1254.5,861.3 1256.5,862.5 1258.5,863.7 1260.5,864.9 1262.5,866.1 1264.5,867.3 1266.5,868.5 1268.5,869.7 1270.5,871.0 1272.5,872.2 1274.5,873.4 1276.5,874.7 1278.5,875.9 1280.5,877.2 1282.5,878.4 1284.5,879.7 1286.5,880.9 1288.5,882.2 1290.5,883.4 1292.5,884.7 1294.5,886.0 1296.5,887.3 1298.5,888.5 1300.5,889.8 1302.5,891.1 1304.5,892.4 1306.5,893.7 1308.5,894.9 1310.5,896.2 1312.5,897.5 1314.5,898.8 1316.5,900.1 1318.5,901.4 1320.5,902.7 1322.5,904.0 1324.5,905.3 1326.5,906.6 1328.5,907.9 1330.5,909.3 1332.5,910.6 1334.5,911.9 1336.5,913.2 1338.5,914.5 1340.5,915.8 1342.5,917.2 1344.5,918.5 1346.5,919.8 1348.5,921.1 1350.5,922.4 1352.5,923.8 1354.5,925.1 1356.5,926.4 1358.5,927.7 1360.5,929.1 1362.5,930.4 1364.5,931.7 1366.5,933.1 1368.5,934.4 1370.5,935.7 1372.5,937.0 1374.5,938.4 1376.5,939.7 1378.5,941.0 1380.5,942.4 1382.5,943.7 1384.5,945.0 1386.5,946.3 1388.5,947.7 1390.5,949.0 1392.5,950.3 1394.5,951.7 1396.5,953.0 1398.5,954.3 1400.5,955.6 1402.5,957.0 1404.5,958.3 1406.5,959.6 1408.5,960.9 1410.5,962.2 1412.5,963.6 1414.5,964.9 1416.5,966.2 1418.5,967.5 1420.5,968.8 1422.5,970.1 1424.5,971.4 1426.5,972.7 1428.5,974.0 1430.5,975.3 1432.5,976.6 1434.5,977.9 1436.5,979.2 1438.5,980.5 1440.5,981.8 1442.5,983.1 1444.5,984.4 1446.5,985.7 1448.5,986.9 1450.5,988.2 1452.5,989.5 1454.5,990.8 1456.5,992.0 1458.5,993.3 1460.5,994.6 1462.5,995.8 1464.5,997.1 1466.5,998.3 1468.5,999.6 1470.5,1000.8 1472.5,1002.1 1474.5,1003.3 1476.5,1004.5 1478.5,1005.8 1480.5,1007.0 1482.5,1008.2 1484.5,1009.4 1486.5,1010.6 1488.5,1011.9 1490.5,1013.1 1492.5,1014.3 1494.5,1015.5 1496.5,1016.7 1498.5,1017.8 1500.5,1019.0 1502.5,1020.2 1504.5,1021.4 1506.5,1022.5 1508.5,1023.7 1510.5,1024.9 1512.5,1026.0 1514.5,1027.2 1516.5,1028.3 1518.5,1029.5 1520.5,1030.6 1522.5,1031.7 1524.5,1032.8 1526.5,1034.0 1528.5,1035.1 1530.5,1036.2 1532.5,1037.3 1534.5,1038.4 1536.5,1039.5 1538.5,1040.5 1540.5,1041.6 1542.5,1042.7 1544.5,1043.8 1546.5,1044.8 1548.5,1045.9 1550.5,1046.9 1552.5,1047.9 1554.5,1049.0 1556.5,1050.0 1558.5,1051.0 1560.5,1052.0 1562.5,1053.0 1564.5,1054.0 1566.5,1055.0 1568.5,1056.0 1570.5,1057.0 1572.5,1058.0 1574.5,1058.9 1576.5,1059.9 1578.5,1060.8 1580.5,1061.8 1582.5,1062.7 1584.5,1063.7 1586.5,1064.6 1588.5,1065.5 1590.5,1066.4 1592.5,1067.3 1594.5,1068.2 1596.5,1069.1 1598.5,1070.0 1600.5,1070.9 1602.5,1071.8 1604.5,1072.6 1606.5,1073.5 1608.5,1074.4 1610.5,1075.2 1612.5,1076.1 1614.5,1076.9 1616.5,1077.8 1618.5,1078.6 1620.5,1079.4 1622.5,1080.3 1624.5,1081.1 1626.5,1081.9 1628.5,1082.7 1630.5,1083.5 1632.5,1084.3 1634.5,1085.1 1636.5,1085.9 1638.5,1086.6 1640.5,1087.4 1642.5,1088.2 1644.5,1089.0 1646.5,1089.7 1648.5,1090.5 1650.5,1091.2 1652.5,1092.0 1654.5,1092.7 1656.5,1093.4 1658.5,1094.2 1660.5,1094.9 1662.5,1095.6 1664.5,1096.3 1666.5,1097.1 1668.5,1097.8 1670.5,1098.5 1672.5,1099.2 1674.5,1099.9 1676.5,1100.5 1678.5,1101.2 1680.5,1101.9 1682.5,1102.6 1684.5,1103.3 1686.5,1103.9 1688.5,1104.6 1690.5,1105.3 1692.5,1105.9 1694.5,1106.6 1696.5,1107.2 1698.5,1107.9 1700.5,1108.5 1702.5,1109.2 1704.5,1109.8 1706.5,1110.4 1708.5,1111.0 1710.5,1111.7 1712.5,1112.3 1714.5,1112.9 1716.5,1113.5 1718.5,1114.1 1720.5,1114.7 1722.5,1115.3 1724.5,1115.9 1726.5,1116.5 1728.5,1117.1 1730.5,1117.7 1732.5,1118.3 1734.5,1118.9 1736.5,1119.4 1738.5,1120.0 1740.5,1120.6 1742.5,1121.2 1744.5,1121.7 1746.5,1122.3 1748.5,1122.9 1750.5,1123.4 1752.5,1124.0 1754.5,1124.5 1756.5,1125.1 1758.5,1125.6 1760.5,1126.2 1762.5,1126.7 1764.5,1127.3 1766.5,1127.8 1768.5,1128.3 1770.5,1128.9 1772.5,1129.4 1774.5,1129.9 1776.5,1130.4 1778.5,1131.0 1780.5,1131.5 1782.5,1132.0 1784.5,1132.5 1786.5,1133.0 1788.5,1133.5 1790.5,1134.1 1792.5,1134.6 1794.5,1135.1 1796.5,1135.6 1798.5,1136.1 1800.5,1136.6 1802.5,1137.1 1804.5,1137.6 1806.5,1138.1 1808.5,1138.6 1810.5,1139.1 1812.5,1139.6 1814.5,1140.0 1816.5,1140.5 1818.5,1141.0 1820.5,1141.5 1822.5,1142.0 1824.5,1142.5 1826.5,1142.9 1828.5,1143.4 1830.5,1143.9 1832.5,1144.4 1834.5,1144.9 1836.5,1145.3 1838.5,1145.8 1840.5,1146.3 1842.5,1146.8 1844.5,1147.2 1846.5,1147.7 1848.5,1148.2 1850.5,1148.6 1852.5,1149.1 1854.5,1149.6 1856.5,1150.0 1858.5,1150.5 1860.5,1151.0 1862.5,1151.4 1864.5,1151.9 1866.5,1152.4 1868.5,1152.8 1870.5,1153.3 1872.5,1153.8 1874.5,1154.2 1876.5,1154.7 1878.5,1155.2 1880.5,1155.6 1882.5,1156.1 1884.5,1156.5 1886.5,1157.0" fill="none" stroke="#00f" stroke-width="1.3"/>
<polygon points="217.6,547.5 255.4,547.5 237.5,514.3 235.5,514.3" fill="#00f"/>
<polygon points="547.6,605.0 585.4,605.0 567.5,571.8 565.5,571.8" fill="#00f"/>
<polygon points="877.6,717.0 915.4,717.0 897.5,683.8 895.5,683.8" fill="#00f"/>
<polygon points="1207.6,856.0 1245.4,856.0 1227.5,822.8 1225.5,822.8" fill="#00f"/>
<polygon points="1537.6,1061.0 1575.4,1061.0 1557.5,1027.8 1555.5,1027.8" fill="#00f"/>
<polygon points="1867.0,1168.0 1904.8,1168.0 1886.9,1134.8 1884.9,1134.8" fill="#00f"/>
<polyline points="236.5,451.0 238.5,451.7 240.5,452.4 242.5,453.1 244.5,453.8 246.5,454.5 248.5,455.2 250.5,455.9 252.5,456.6 254.5,457.3 256.5,457.9 258.5,458.6 260.5,459.3 262.5,460.0 264.5,460.7 266.5,461.4 268.5,462.1 270.5,462.8 272.5,463.5 274.5,464.2 276.5,464.9 278.5,465.6 280.5,466.3 282.5,467.0 284.5,467.7 286.5,468.4 288.5,469.0 290.5,469.7 292.5,470.4 294.5,471.1 296.5,471.8 298.5,472.5 300.5,473.2 302.5,473.9 304.5,474.6 306.5,475.3 308.5,476.0 310.5,476.7 312.5,477.3 314.5,478.0 316.5,478.7 318.5,479.4 320.5,480.1 322.5,480.8 324.5,481.5 326.5,482.2 328.5,482.9 330.5,483.5 332.5,484.2 334.5,484.9 336.5,485.6 338.5,486.3 340.5,487.0 342.5,487.7 344.5,488.4 346.5,489.0 348.5,489.7 350.5,490.4 352.5,491.1 354.5,491.8 356.5,492.5 358.5,493.1 360.5,493.8 362.5,494.5 364.5,495.2 366.5,495.9 368.5,496.6 370.5,497.2 372.5,497.9 374.5,498.6 376.5,499.3 378.5,500.0 380.5,500.6 382.5,501.3 384.5,502.0 386.5,502.7 388.5,503.4 390.5,504.0 392.5,504.7 394.5,505.4 396.5,506.1 398.5,506.7 400.5,507.4 402.5,508.1 404.5,508.8 406.5,509.4 408.5,510.1 410.5,510.8 412.5,511.4 414.5,512.1 416.5,512.8 418.5,513.4 420.5,514.1 422.5,514.8 424.5,515.5 426.5,516.1 428.5,516.8 430.5,517.5 432.5,518.1 434.5,518.8 436.5,519.4 438.5,520.1 440.5,520.8 442.5,521.4 444.5,522.1 446.5,522.8 448.5,523.4 450.5,524.1 452.5,524.7 454.5,525.4 456.5,526.1 458.5,526.7 460.5,527.4 462.5,528.0 464.5,528.7 466.5,529.3 468.5,530.0 470.5,530.6 472.5,531.3 474.5,531.9 476.5,532.6 478.5,533.2 480.5,533.9 482.5,534.5 484.5,535.2 486.5,535.8 488.5,536.5 490.5,537.1 492.5,537.8 494.5,538.4 496.5,539.1 498.5,539.7 500.5,540.3 502.5,541.0 504.5,541.6 506.5,542.3 508.5,542.9 510.5,543.5 512.5,544.2 514.5,544.8 516.5,545.4 518.5,546.1 520.5,546.7 522.5,547.3 524.5,548.0 526.5,548.6 528.5,549.2 530.5,549.9 532.5,550.5 534.5,551.1 536.5,551.7 538.5,552.4 540.5,553.0 542.5,553.6 544.5,554.2 546.5,554.8 548.5,555.5 550.5,556.1 552.5,556.7 554.5,557.3 556.5,557.9 558.5,558.6 560.5,559.2 562.5,559.8 564.5,560.4 566.5,561.0 568.5,561.6 570.5,562.2 572.5,562.8 574.5,563.4 576.5,564.0 578.5,564.6 580.5,565.2 582.5,565.9 584.5,566.5 586.5,567.1 588.5,567.7 590.5,568.3 592.5,568.9 594.5,569.4 596.5,570.0 598.5,570.6 600.5,571.2 602.5,571.8 604.5,572.4 606.5,573.0 608.5,573.6 610.5,574.2 612.5,574.8 614.5,575.4 616.5,576.0 618.5,576.5 620.5,577.1 622.5,577.7 624.5,578.3 626.5,578.9 628.5,579.5 630.5,580.1 632.5,580.6 634.5,581.2 636.5,581.8 638.5,582.4 640.5,583.0 642.5,583.5 644.5,584.1 646.5,584.7 648.5,585.3 650.5,585.8 652.5,586.4 654.5,587.0 656.5,587.6 658.5,588.1 660.5,588.7 662.5,589.3 664.5,589.8 666.5,590.4 668.5,591.0 670.5,591.5 672.5,592.1 674.5,592.7 676.5,593.3 678.5,593.8 680.5,594.4 682.5,594.9 684.5,595.5 686.5,596.1 688.5,596.6 690.5,597.2 692.5,597.8 694.5,598.3 696.5,598.9 698.5,599.5 700.5,600.0 702.5,600.6 704.5,601.1 706.5,601.7 708.5,602.3 710.5,602.8 712.5,603.4 714.5,603.9 716.5,604.5 718.5,605.0 720.5,605.6 722.5,606.2 724.5,606.7 726.5,607.3 728.5,607.8 730.5,608.4 732.5,608.9 734.5,609.5 736.5,610.0 738.5,610.6 740.5,611.1 742.5,611.7 744.5,612.2 746.5,612.8 748.5,613.3 750.5,613.9 752.5,614.5 754.5,615.0 756.5,615.6 758.5,616.1 760.5,616.7 762.5,617.2 764.5,617.8 766.5,618.3 768.5,618.9 770.5,619.4 772.5,620.0 774.5,620.5 776.5,621.0 778.5,621.6 780.5,622.1 782.5,622.7 784.5,623.2 786.5,623.8 788.5,624.3 790.5,624.9 792.5,625.4 794.5,626.0 796.5,626.5 798.5,627.1 800.5,627.6 802.5,628.2 804.5,628.7 806.5,629.3 808.5,629.8 810.5,630.4 812.5,630.9 814.5,631.5 816.5,632.0 818.5,632.6 820.5,633.1 822.5,633.6 824.5,634.2 826.5,634.7 828.5,635.3 830.5,635.8 832.5,636.4 834.5,636.9 836.5,637.5 838.5,638.0 840.5,638.6 842.5,639.1 844.5,639.7 846.5,640.2 848.5,640.8 850.5,641.3 852.5,641.9 854.5,642.4 856.5,643.0 858.5,643.5 860.5,644.1 862.5,644.6 864.5,645.2 866.5,645.7 868.5,646.3 870.5,646.8 872.5,647.4 874.5,647.9 876.5,648.5 878.5,649.0 880.5,649.6 882.5,650.1 884.5,650.7 886.5,651.2 888.5,651.8 890.5,652.3 892.5,652.9 894.5,653.4 896.5,654.0 898.5,654.6 900.5,655.1 902.5,655.7 904.5,656.2 906.5,656.8 908.5,657.3 910.5,657.9 912.5,658.5 914.5,659.0 916.5,659.6 918.5,660.1 920.5,660.7 922.5,661.2 924.5,661.8 926.5,662.4 928.5,662.9 930.5,663.5 932.5,664.1 934.5,664.6 936.5,665.2 938.5,665.8 940.5,666.3 942.5,666.9 944.5,667.5 946.5,668.0 948.5,668.6 950.5,669.2 952.5,669.8 954.5,670.3 956.5,670.9 958.5,671.5 960.5,672.1 962.5,672.6 964.5,673.2 966.5,673.8 968.5,674.4 970.5,675.0 972.5,675.6 974.5,676.1 976.5,676.7 978.5,677.3 980.5,677.9 982.5,678.5 984.5,679.1 986.5,679.7 988.5,680.3 990.5,680.9 992.5,681.5 994.5,682.1 996.5,682.7 998.5,683.3 1000.5,683.9 1002.5,684.5 1004.5,685.1 1006.5,685.7 1008.5,686.3 1010.5,687.0 1012.5,687.6 1014.5,688.2 1016.5,688.8 1018.5,689.4 1020.5,690.1 1022.5,690.7 1024.5,691.3 1026.5,691.9 1028.5,692.6 1030.5,693.2 1032.5,693.8 1034.5,694.5 1036.5,695.1 1038.5,695.8 1040.5,696.4 1042.5,697.0 1044.5,697.7 1046.5,698.3 1048.5,699.0 1050.5,699.6 1052.5,700.3 1054.5,701.0 1056.5,701.6 1058.5,702.3 1060.5,703.0 1062.5,703.6 1064.5,704.3 1066.5,705.0 1068.5,705.6 1070.5,706.3 1072.5,707.0 1074.5,707.7 1076.5,708.4 1078.5,709.1 1080.5,709.8 1082.5,710.4 1084.5,711.1 1086.5,711.8 1088.5,712.5 1090.5,713.3 1092.5,714.0 1094.5,714.7 1096.5,715.4 1098.5,716.1 1100.5,716.8 1102.5,717.5 1104.5,718.3 1106.5,719.0 1108.5,719.7 1110.5,720.5 1112.5,721.2 1114.5,721.9 1116.5,722.7 1118.5,723.4 1120.5,724.2 1122.5,724.9 1124.5,725.7 1126.5,726.4 1128.5,727.2 1130.5,728.0 1132.5,728.7 1134.5,729.5 1136.5,730.3 1138.5,731.1 1140.5,731.8 1142.5,732.6 1144.5,733.4 1146.5,734.2 1148.5,735.0 1150.5,735.8 1152.5,736.6 1154.5,737.4 1156.5,738.2 1158.5,739.0 1160.5,739.8 1162.5,740.7 1164.5,741.5 1166.5,742.3 1168.5,743.2 1170.5,744.0 1172.5,744.8 1174.5,745.7 1176.5,746.5 1178.5,747.4 1180.5,748.2 1182.5,749.1 1184.5,749.9 1186.5,750.8 1188.5,751.7 1190.5,752.6 1192.5,753.4 1194.5,754.3 1196.5,755.2 1198.5,756.1 1200.5,757.0 1202.5,757.9 1204.5,758.8 1206.5,759.7 1208.5,760.6 1210.5,761.5 1212.5,762.4 1214.5,763.4 1216.5,764.3 1218.5,765.2 1220.5,766.2 1222.5,767.1 1224.5,768.0 1226.5,769.0 1228.5,770.0 1230.5,770.9 1232.5,771.9 1234.5,772.8 1236.5,773.8 1238.5,774.8 1240.5,775.8 1242.5,776.8 1244.5,777.7 1246.5,778.7 1248.5,779.7 1250.5,780.7 1252.5,781.7 1254.5,782.8 1256.5,783.8 1258.5,784.8 1260.5,785.8 1262.5,786.8 1264.5,787.9 1266.5,788.9 1268.5,789.9 1270.5,791.0 1272.5,792.0 1274.5,793.0 1276.5,794.1 1278.5,795.1 1280.5,796.2 1282.5,797.2 1284.5,798.3 1286.5,799.4 1288.5,800.4 1290.5,801.5 1292.5,802.6 1294.5,803.6 1296.5,804.7 1298.5,805.8 1300.5,806.9 1302.5,808.0 1304.5,809.0 1306.5,810.1 1308.5,811.2 1310.5,812.3 1312.5,813.4 1314.5,814.5 1316.5,815.6 1318.5,816.7 1320.5,817.8 1322.5,818.9 1324.5,820.0 1326.5,821.1 1328.5,822.3 1330.5,823.4 1332.5,824.5 1334.5,825.6 1336.5,826.7 1338.5,827.8 1340.5,829.0 1342.5,830.1 1344.5,831.2 1346.5,832.3 1348.5,833.5 1350.5,834.6 1352.5,835.7 1354.5,836.9 1356.5,838.0 1358.5,839.1 1360.5,840.3 1362.5,841.4 1364.5,842.5 1366.5,843.7 1368.5,844.8 1370.5,845.9 1372.5,847.1 1374.5,848.2 1376.5,849.4 1378.5,850.5 1380.5,851.7 1382.5,852.8 1384.5,853.9 1386.5,855.1 1388.5,856.2 1390.5,857.4 1392.5,858.5 1394.5,859.7 1396.5,860.8 1398.5,861.9 1400.5,863.1 1402.5,864.2 1404.5,865.4 1406.5,866.5 1408.5,867.7 1410.5,868.8 1412.5,870.0 1414.5,871.1 1416.5,872.2 1418.5,873.4 1420.5,874.5 1422.5,875.7 1424.5,876.8 1426.5,877.9 1428.5,879.1 1430.5,880.2 1432.5,881.4 1434.5,882.5 1436.5,883.6 1438.5,884.8 1440.5,885.9 1442.5,887.0 1444.5,888.2 1446.5,889.3 1448.5,890.4 1450.5,891.5 1452.5,892.7 1454.5,893.8 1456.5,894.9 1458.5,896.0 1460.5,897.2 1462.5,898.3 1464.5,899.4 1466.5,900.5 1468.5,901.6 1470.5,902.7 1472.5,903.8 1474.5,904.9 1476.5,906.0 1478.5,907.2 1480.5,908.3 1482.5,909.4 1484.5,910.4 1486.5,911.5 1488.5,912.6 1490.5,913.7 1492.5,914.8 1494.5,915.9 1496.5,917.0 1498.5,918.1 1500.5,919.1 1502.5,920.2 1504.5,921.3 1506.5,922.3 1508.5,923.4 1510.5,924.5 1512.5,925.5 1514.5,926.6 1516.5,927.6 1518.5,928.7 1520.5,929.7 1522.5,930.8 1524.5,931.8 1526.5,932.9 1528.5,933.9 1530.5,934.9 1532.5,936.0 1534.5,937.0 1536.5,938.0 1538.5,939.0 1540.5,940.0 1542.5,941.0 1544.5,942.0 1546.5,943.1 1548.5,944.0 1550.5,945.0 1552.5,946.0 1554.5,947.0 1556.5,948.0 1558.5,949.0 1560.5,950.0 1562.5,950.9 1564.5,951.9 1566.5,952.8 1568.5,953.8 1570.5,954.8 1572.5,955.7 1574.5,956.7 1576.5,957.6 1578.5,958.5 1580.5,959.5 1582.5,960.4 1584.5,961.3 1586.5,962.2 1588.5,963.2 1590.5,964.1 1592.5,965.0 1594.5,965.9 1596.5,966.8 1598.5,967.7 1600.5,968.6 1602.5,969.5 1604.5,970.4 1606.5,971.3 1608.5,972.1 1610.5,973.0 1612.5,973.9 1614.5,974.8 1616.5,975.6 1618.5,976.5 1620.5,977.4 1622.5,978.2 1624.5,979.1 1626.5,979.9 1628.5,980.8 1630.5,981.6 1632.5,982.5 1634.5,983.3 1636.5,984.1 1638.5,985.0 1640.5,985.8 1642.5,986.6 1644.5,987.4 1646.5,988.3 1648.5,989.1 1650.5,989.9 1652.5,990.7 1654.5,991.5 1656.5,992.3 1658.5,993.1 1660.5,993.9 1662.5,994.7 1664.5,995.5 1666.5,996.3 1668.5,997.1 1670.5,997.9 1672.5,998.7 1674.5,999.4 1676.5,1000.2 1678.5,1001.0 1680.5,1001.8 1682.5,1002.5 1684.5,1003.3 1686.5,1004.1 1688.5,1004.8 1690.5,1005.6 1692.5,1006.3 1694.5,1007.1 1696.5,1007.9 1698.5,1008.6 1700.5,1009.3 1702.5,1010.1 1704.5,1010.8 1706.5,1011.6 1708.5,1012.3 1710.5,1013.1 1712.5,1013.8 1714.5,1014.5 1716.5,1015.2 1718.5,1016.0 1720.5,1016.7 1722.5,1017.4 1724.5,1018.1 1726.5,1018.9 1728.5,1019.6 1730.5,1020.3 1732.5,1021.0 1734.5,1021.7 1736.5,1022.4 1738.5,1023.1 1740.5,1023.8 1742.5,1024.5 1744.5,1025.2 1746.5,1025.9 1748.5,1026.6 1750.5,1027.3 1752.5,1028.0 1754.5,1028.7 1756.5,1029.4 1758.5,1030.1 1760.5,1030.8 1762.5,1031.5 1764.5,1032.2 1766.5,1032.9 1768.5,1033.5 1770.5,1034.2 1772.5,1034.9 1774.5,1035.6 1776.5,1036.2 1778.5,1036.9 1780.5,1037.6 1782.5,1038.3 1784.5,1038.9 1786.5,1039.6 1788.5,1040.3 1790.5,1040.9 1792.5,1041.6 1794.5,1042.3 1796.5,1042.9 1798.5,1043.6 1800.5,1044.3 1802.5,1044.9 1804.5,1045.6 1806.5,1046.2 1808.5,1046.9 1810.5,1047.5 1812.5,1048.2 1814.5,1048.9 1816.5,1049.5 1818.5,1050.2 1820.5,1050.8 1822.5,1051.5 1824.5,1052.1 1826.5,1052.8 1828.5,1053.4 1830.5,1054.1 1832.5,1054.7 1834.5,1055.4 1836.5,1056.0 1838.5,1056.6 1840.5,1057.3 1842.5,1057.9 1844.5,1058.6 1846.5,1059.2 1848.5,1059.9 1850.5,1060.5 1852.5,1061.1 1854.5,1061.8 1856.5,1062.4 1858.5,1063.1 1860.5,1063.7 1862.5,1064.3 1864.5,1065.0 1866.5,1065.6 1868.5,1066.3 1870.5,1066.9 1872.5,1067.5 1874.5,1068.2 1876.5,1068.8 1878.5,1069.5 1880.5,1070.1 1882.5,1070.7 1884.5,1071.4 1886.5,1072.0" fill="none" stroke="#f0f" stroke-width="1.3"/>
<polygon points="217.6,440.0 255.4,440.0 237.5,473.2 235.5,473.2" fill="#f0f"/>
<polygon points="547.6,550.0 585.4,550.0 567.5,583.2 565.5,583.2" fill="#f0f"/>
<polygon points="877.6,643.0 915.4,643.0 897.5,676.2 895.5,676.2" fill="#f0f"/>
<polygon points="1207.6,758.0 1245.4,758.0 1227.5,791.2 1225.5,791.2" fill="#f0f"/>
<polygon points="1537.6,937.0 1575.4,937.0 1557.5,970.2 1555.5,970.2" fill="#f0f"/>
<polygon points="1867.0,1061.0 1904.8,1061.0 1886.9,1094.2 1884.9,1094.2" fill="#f0f"/>
<polyline points="236.5,641.5 238.5,642.1 240.5,642.7 242.5,643.3 244.5,643.8 246.5,644.4 248.5,645.0 250.5,645.6 252.5,646.2 254.5,646.8 256.5,647.4 258.5,647.9 260.5,648.5 262.5,649.1 264.5,649.7 266.5,650.3 268.5,650.9 270.5,651.4 272.5,652.0 274.5,652.6 276.5,653.2 278.5,653.8 280.5,654.4 282.5,655.0 284.5,655.5 286.5,656.1 288.5,656.7 290.5,657.3 292.5,657.9 294.5,658.5 296.5,659.1 298.5,659.7 300.5,660.2 302.5,660.8 304.5,661.4 306.5,662.0 308.5,662.6 310.5,663.2 312.5,663.8 314.5,664.4 316.5,664.9 318.5,665.5 320.5,666.1 322.5,666.7 324.5,667.3 326.5,667.9 328.5,668.5 330.5,669.1 332.5,669.7 334.5,670.2 336.5,670.8 338.5,671.4 340.5,672.0 342.5,672.6 344.5,673.2 346.5,673.8 348.5,674.4 350.5,675.0 352.5,675.6 354.5,676.2 356.5,676.7 358.5,677.3 360.5,677.9 362.5,678.5 364.5,679.1 366.5,679.7 368.5,680.3 370.5,680.9 372.5,681.5 374.5,682.1 376.5,682.7 378.5,683.3 380.5,683.9 382.5,684.5 384.5,685.1 386.5,685.7 388.5,686.3 390.5,686.8 392.5,687.4 394.5,688.0 396.5,688.6 398.5,689.2 400.5,689.8 402.5,690.4 404.5,691.0 406.5,691.6 408.5,692.2 410.5,692.8 412.5,693.4 414.5,694.0 416.5,694.6 418.5,695.2 420.5,695.8 422.5,696.4 424.5,697.0 426.5,697.6 428.5,698.2 430.5,698.9 432.5,699.5 434.5,700.1 436.5,700.7 438.5,701.3 440.5,701.9 442.5,702.5 444.5,703.1 446.5,703.7 448.5,704.3 450.5,704.9 452.5,705.5 454.5,706.1 456.5,706.7 458.5,707.3 460.5,708.0 462.5,708.6 464.5,709.2 466.5,709.8 468.5,710.4 470.5,711.0 472.5,711.6 474.5,712.2 476.5,712.8 478.5,713.5 480.5,714.1 482.5,714.7 484.5,715.3 486.5,715.9 488.5,716.5 490.5,717.2 492.5,717.8 494.5,718.4 496.5,719.0 498.5,719.6 500.5,720.2 502.5,720.9 504.5,721.5 506.5,722.1 508.5,722.7 510.5,723.3 512.5,724.0 514.5,724.6 516.5,725.2 518.5,725.8 520.5,726.5 522.5,727.1 524.5,727.7 526.5,728.3 528.5,729.0 530.5,729.6 532.5,730.2 534.5,730.9 536.5,731.5 538.5,732.1 540.5,732.7 542.5,733.4 544.5,734.0 546.5,734.6 548.5,735.3 550.5,735.9 552.5,736.5 554.5,737.2 556.5,737.8 558.5,738.4 560.5,739.1 562.5,739.7 564.5,740.4 566.5,741.0 568.5,741.6 570.5,742.3 572.5,742.9 574.5,743.6 576.5,744.2 578.5,744.8 580.5,745.5 582.5,746.1 584.5,746.8 586.5,747.4 588.5,748.1 590.5,748.7 592.5,749.4 594.5,750.0 596.5,750.7 598.5,751.3 600.5,752.0 602.5,752.6 604.5,753.3 606.5,753.9 608.5,754.6 610.5,755.2 612.5,755.9 614.5,756.5 616.5,757.2 618.5,757.8 620.5,758.5 622.5,759.1 624.5,759.8 626.5,760.4 628.5,761.1 630.5,761.7 632.5,762.4 634.5,763.1 636.5,763.7 638.5,764.4 640.5,765.0 642.5,765.7 644.5,766.4 646.5,767.0 648.5,767.7 650.5,768.3 652.5,769.0 654.5,769.7 656.5,770.3 658.5,771.0 660.5,771.6 662.5,772.3 664.5,773.0 666.5,773.6 668.5,774.3 670.5,775.0 672.5,775.6 674.5,776.3 676.5,777.0 678.5,777.6 680.5,778.3 682.5,779.0 684.5,779.6 686.5,780.3 688.5,781.0 690.5,781.6 692.5,782.3 694.5,783.0 696.5,783.6 698.5,784.3 700.5,785.0 702.5,785.6 704.5,786.3 706.5,787.0 708.5,787.6 710.5,788.3 712.5,789.0 714.5,789.6 716.5,790.3 718.5,791.0 720.5,791.7 722.5,792.3 724.5,793.0 726.5,793.7 728.5,794.3 730.5,795.0 732.5,795.7 734.5,796.3 736.5,797.0 738.5,797.7 740.5,798.4 742.5,799.0 744.5,799.7 746.5,800.4 748.5,801.0 750.5,801.7 752.5,802.4 754.5,803.1 756.5,803.7 758.5,804.4 760.5,805.1 762.5,805.8 764.5,806.4 766.5,807.1 768.5,807.8 770.5,808.4 772.5,809.1 774.5,809.8 776.5,810.5 778.5,811.1 780.5,811.8 782.5,812.5 784.5,813.1 786.5,813.8 788.5,814.5 790.5,815.2 792.5,815.8 794.5,816.5 796.5,817.2 798.5,817.8 800.5,818.5 802.5,819.2 804.5,819.9 806.5,820.5 808.5,821.2 810.5,821.9 812.5,822.5 814.5,823.2 816.5,823.9 818.5,824.6 820.5,825.2 822.5,825.9 824.5,826.6 826.5,827.2 828.5,827.9 830.5,828.6 832.5,829.2 834.5,829.9 836.5,830.6 838.5,831.2 840.5,831.9 842.5,832.6 844.5,833.2 846.5,833.9 848.5,834.6 850.5,835.3 852.5,835.9 854.5,836.6 856.5,837.2 858.5,837.9 860.5,838.6 862.5,839.2 864.5,839.9 866.5,840.6 868.5,841.2 870.5,841.9 872.5,842.6 874.5,843.2 876.5,843.9 878.5,844.6 880.5,845.2 882.5,845.9 884.5,846.5 886.5,847.2 888.5,847.9 890.5,848.5 892.5,849.2 894.5,849.8 896.5,850.5 898.5,851.2 900.5,851.8 902.5,852.5 904.5,853.1 906.5,853.8 908.5,854.4 910.5,855.1 912.5,855.8 914.5,856.4 916.5,857.1 918.5,857.7 920.5,858.4 922.5,859.0 924.5,859.7 926.5,860.3 928.5,861.0 930.5,861.7 932.5,862.3 934.5,863.0 936.5,863.6 938.5,864.3 940.5,864.9 942.5,865.6 944.5,866.2 946.5,866.9 948.5,867.5 950.5,868.2 952.5,868.8 954.5,869.5 956.5,870.1 958.5,870.8 960.5,871.4 962.5,872.1 964.5,872.8 966.5,873.4 968.5,874.1 970.5,874.7 972.5,875.4 974.5,876.0 976.5,876.7 978.5,877.3 980.5,878.0 982.5,878.6 984.5,879.3 986.5,879.9 988.5,880.6 990.5,881.3 992.5,881.9 994.5,882.6 996.5,883.2 998.5,883.9 1000.5,884.5 1002.5,885.2 1004.5,885.9 1006.5,886.5 1008.5,887.2 1010.5,887.8 1012.5,888.5 1014.5,889.1 1016.5,889.8 1018.5,890.5 1020.5,891.1 1022.5,891.8 1024.5,892.5 1026.5,893.1 1028.5,893.8 1030.5,894.4 1032.5,895.1 1034.5,895.8 1036.5,896.4 1038.5,897.1 1040.5,897.8 1042.5,898.4 1044.5,899.1 1046.5,899.8 1048.5,900.4 1050.5,901.1 1052.5,901.8 1054.5,902.5 1056.5,903.1 1058.5,903.8 1060.5,904.5 1062.5,905.1 1064.5,905.8 1066.5,906.5 1068.5,907.2 1070.5,907.8 1072.5,908.5 1074.5,909.2 1076.5,909.9 1078.5,910.6 1080.5,911.2 1082.5,911.9 1084.5,912.6 1086.5,913.3 1088.5,914.0 1090.5,914.7 1092.5,915.4 1094.5,916.1 1096.5,916.7 1098.5,917.4 1100.5,918.1 1102.5,918.8 1104.5,919.5 1106.5,920.2 1108.5,920.9 1110.5,921.6 1112.5,922.3 1114.5,923.0 1116.5,923.7 1118.5,924.4 1120.5,925.1 1122.5,925.8 1124.5,926.5 1126.5,927.2 1128.5,927.9 1130.5,928.6 1132.5,929.4 1134.5,930.1 1136.5,930.8 1138.5,931.5 1140.5,932.2 1142.5,932.9 1144.5,933.6 1146.5,934.4 1148.5,935.1 1150.5,935.8 1152.5,936.5 1154.5,937.3 1156.5,938.0 1158.5,938.7 1160.5,939.4 1162.5,940.2 1164.5,940.9 1166.5,941.7 1168.5,942.4 1170.5,943.1 1172.5,943.9 1174.5,944.6 1176.5,945.4 1178.5,946.1 1180.5,946.8 1182.5,947.6 1184.5,948.3 1186.5,949.1 1188.5,949.8 1190.5,950.6 1192.5,951.4 1194.5,952.1 1196.5,952.9 1198.5,953.6 1200.5,954.4 1202.5,955.2 1204.5,955.9 1206.5,956.7 1208.5,957.5 1210.5,958.2 1212.5,959.0 1214.5,959.8 1216.5,960.6 1218.5,961.4 1220.5,962.1 1222.5,962.9 1224.5,963.7 1226.5,964.5 1228.5,965.3 1230.5,966.1 1232.5,966.9 1234.5,967.7 1236.5,968.5 1238.5,969.3 1240.5,970.1 1242.5,970.9 1244.5,971.7 1246.5,972.5 1248.5,973.3 1250.5,974.1 1252.5,974.9 1254.5,975.7 1256.5,976.6 1258.5,977.4 1260.5,978.2 1262.5,979.0 1264.5,979.8 1266.5,980.7 1268.5,981.5 1270.5,982.3 1272.5,983.1 1274.5,984.0 1276.5,984.8 1278.5,985.6 1280.5,986.5 1282.5,987.3 1284.5,988.1 1286.5,989.0 1288.5,989.8 1290.5,990.6 1292.5,991.5 1294.5,992.3 1296.5,993.2 1298.5,994.0 1300.5,994.9 1302.5,995.7 1304.5,996.6 1306.5,997.4 1308.5,998.3 1310.5,999.1 1312.5,1000.0 1314.5,1000.8 1316.5,1001.7 1318.5,1002.5 1320.5,1003.4 1322.5,1004.2 1324.5,1005.1 1326.5,1005.9 1328.5,1006.8 1330.5,1007.7 1332.5,1008.5 1334.5,1009.4 1336.5,1010.2 1338.5,1011.1 1340.5,1012.0 1342.5,1012.8 1344.5,1013.7 1346.5,1014.6 1348.5,1015.4 1350.5,1016.3 1352.5,1017.1 1354.5,1018.0 1356.5,1018.9 1358.5,1019.7 1360.5,1020.6 1362.5,1021.5 1364.5,1022.3 1366.5,1023.2 1368.5,1024.1 1370.5,1024.9 1372.5,1025.8 1374.5,1026.7 1376.5,1027.5 1378.5,1028.4 1380.5,1029.3 1382.5,1030.2 1384.5,1031.0 1386.5,1031.9 1388.5,1032.8 1390.5,1033.6 1392.5,1034.5 1394.5,1035.4 1396.5,1036.2 1398.5,1037.1 1400.5,1038.0 1402.5,1038.8 1404.5,1039.7 1406.5,1040.6 1408.5,1041.4 1410.5,1042.3 1412.5,1043.2 1414.5,1044.0 1416.5,1044.9 1418.5,1045.8 1420.5,1046.6 1422.5,1047.5 1424.5,1048.4 1426.5,1049.2 1428.5,1050.1 1430.5,1050.9 1432.5,1051.8 1434.5,1052.7 1436.5,1053.5 1438.5,1054.4 1440.5,1055.2 1442.5,1056.1 1444.5,1057.0 1446.5,1057.8 1448.5,1058.7 1450.5,1059.5 1452.5,1060.4 1454.5,1061.2 1456.5,1062.1 1458.5,1062.9 1460.5,1063.8 1462.5,1064.6 1464.5,1065.5 1466.5,1066.3 1468.5,1067.2 1470.5,1068.0 1472.5,1068.9 1474.5,1069.7 1476.5,1070.5 1478.5,1071.4 1480.5,1072.2 1482.5,1073.1 1484.5,1073.9 1486.5,1074.7 1488.5,1075.6 1490.5,1076.4 1492.5,1077.2 1494.5,1078.1 1496.5,1078.9 1498.5,1079.7 1500.5,1080.6 1502.5,1081.4 1504.5,1082.2 1506.5,1083.0 1508.5,1083.8 1510.5,1084.7 1512.5,1085.5 1514.5,1086.3 1516.5,1087.1 1518.5,1087.9 1520.5,1088.7 1522.5,1089.5 1524.5,1090.3 1526.5,1091.2 1528.5,1092.0 1530.5,1092.8 1532.5,1093.6 1534.5,1094.4 1536.5,1095.2 1538.5,1095.9 1540.5,1096.7 1542.5,1097.5 1544.5,1098.3 1546.5,1099.1 1548.5,1099.9 1550.5,1100.7 1552.5,1101.4 1554.5,1102.2 1556.5,1103.0 1558.5,1103.8 1560.5,1104.5 1562.5,1105.3 1564.5,1106.1 1566.5,1106.8 1568.5,1107.6 1570.5,1108.4 1572.5,1109.1 1574.5,1109.9 1576.5,1110.6 1578.5,1111.4 1580.5,1112.1 1582.5,1112.9 1584.5,1113.6 1586.5,1114.4 1588.5,1115.1 1590.5,1115.9 1592.5,1116.6 1594.5,1117.3 1596.5,1118.1 1598.5,1118.8 1600.5,1119.5 1602.5,1120.3 1604.5,1121.0 1606.5,1121.7 1608.5,1122.4 1610.5,1123.2 1612.5,1123.9 1614.5,1124.6 1616.5,1125.3 1618.5,1126.0 1620.5,1126.7 1622.5,1127.4 1624.5,1128.2 1626.5,1128.9 1628.5,1129.6 1630.5,1130.3 1632.5,1131.0 1634.5,1131.7 1636.5,1132.4 1638.5,1133.1 1640.5,1133.8 1642.5,1134.5 1644.5,1135.2 1646.5,1135.8 1648.5,1136.5 1650.5,1137.2 1652.5,1137.9 1654.5,1138.6 1656.5,1139.3 1658.5,1140.0 1660.5,1140.6 1662.5,1141.3 1664.5,1142.0 1666.5,1142.7 1668.5,1143.3 1670.5,1144.0 1672.5,1144.7 1674.5,1145.4 1676.5,1146.0 1678.5,1146.7 1680.5,1147.4 1682.5,1148.0 1684.5,1148.7 1686.5,1149.3 1688.5,1150.0 1690.5,1150.7 1692.5,1151.3 1694.5,1152.0 1696.5,1152.6 1698.5,1153.3 1700.5,1153.9 1702.5,1154.6 1704.5,1155.2 1706.5,1155.9 1708.5,1156.5 1710.5,1157.2 1712.5,1157.8 1714.5,1158.5 1716.5,1159.1 1718.5,1159.7 1720.5,1160.4 1722.5,1161.0 1724.5,1161.7 1726.5,1162.3 1728.5,1162.9 1730.5,1163.6 1732.5,1164.2 1734.5,1164.8 1736.5,1165.5 1738.5,1166.1 1740.5,1166.7 1742.5,1167.4 1744.5,1168.0 1746.5,1168.6 1748.5,1169.2 1750.5,1169.9 1752.5,1170.5 1754.5,1171.1 1756.5,1171.7 1758.5,1172.4 1760.5,1173.0 1762.5,1173.6 1764.5,1174.2 1766.5,1174.8 1768.5,1175.5 1770.5,1176.1 1772.5,1176.7 1774.5,1177.3 1776.5,1177.9 1778.5,1178.5 1780.5,1179.2 1782.5,1179.8 1784.5,1180.4 1786.5,1181.0 1788.5,1181.6 1790.5,1182.2 1792.5,1182.8 1794.5,1183.4 1796.5,1184.0 1798.5,1184.7 1800.5,1185.3 1802.5,1185.9 1804.5,1186.5 1806.5,1187.1 1808.5,1187.7 1810.5,1188.3 1812.5,1188.9 1814.5,1189.5 1816.5,1190.1 1818.5,1190.7 1820.5,1191.3 1822.5,1191.9 1824.5,1192.5 1826.5,1193.1 1828.5,1193.7 1830.5,1194.3 1832.5,1194.9 1834.5,1195.5 1836.5,1196.1 1838.5,1196.7 1840.5,1197.3 1842.5,1197.9 1844.5,1198.5 1846.5,1199.1 1848.5,1199.7 1850.5,1200.3 1852.5,1200.9 1854.5,1201.5 1856.5,1202.1 1858.5,1202.7 1860.5,1203.3 1862.5,1203.9 1864.5,1204.5 1866.5,1205.1 1868.5,1205.6 1870.5,1206.2 1872.5,1206.8 1874.5,1207.4 1876.5,1208.0 1878.5,1208.6 1880.5,1209.2 1882.5,1209.8 1884.5,1210.4 1886.5,1211.0" fill="none" stroke="#008000" stroke-width="1.3"/>
<polygon points="216.5,641.5 236.5,621.5 256.5,641.5 236.5,661.5" fill="#008000"/>
<polygon points="546.5,741.0 566.5,721.0 586.5,741.0 566.5,761.0" fill="#008000"/>
<polygon points="876.5,850.5 896.5,830.5 916.5,850.5 896.5,870.5" fill="#008000"/>
<polygon points="1206.5,964.5 1226.5,944.5 1246.5,964.5 1226.5,984.5" fill="#008000"/>
<polygon points="1536.5,1103.0 1556.5,1083.0 1576.5,1103.0 1556.5,1123.0" fill="#008000"/>
<polygon points="1866.5,1211.0 1886.5,1191.0 1906.5,1211.0 1886.5,1231.0" fill="#008000"/>
</g>
<g shape-rendering="crispEdges">
<rect x="1169.5" y="78.5" width="683" height="367" fill="#fff" stroke="#000" stroke-width="1"/>
<line x1="1170" y1="112.5" x2="1305" y2="112.5" stroke="#000" stroke-width="1"/>
<rect x="1223" y="98" width="29" height="30" fill="#000"/>
<line x1="1170" y1="187.5" x2="1305" y2="187.5" stroke="#f00" stroke-width="1"/>
<circle cx="1237.0" cy="186.8" r="16.1" fill="#f00"/>
<line x1="1170" y1="261.5" x2="1305" y2="261.5" stroke="#00f" stroke-width="1"/>
<polygon points="1218.1,272.7 1255.9,272.7 1238.0,239.5 1236.0,239.5" fill="#00f"/>
<line x1="1170" y1="336.5" x2="1305" y2="336.5" stroke="#f0f" stroke-width="1"/>
<polygon points="1218.1,325.1 1255.9,325.1 1238.0,358.3 1236.0,358.3" fill="#f0f"/>
<line x1="1170" y1="410.5" x2="1305" y2="410.5" stroke="#008000" stroke-width="1"/>
<polygon points="1217.6,410.7 1237.6,390.7 1257.6,410.7 1237.6,430.7" fill="#008000"/>
</g>
<g font-size="59.9px">
<text x="1318.8" y="132.9">FCO-MST</text>
<text x="1318.8" y="207">FPO-MST</text>
<text x="1318.8" y="281.4">EEHC</text>
<text x="1318.8" y="356">Dipanwita's algorithm</text>
<text x="1318.8" y="430.6">LEACH</text>
</g>
</svg></body></html>
